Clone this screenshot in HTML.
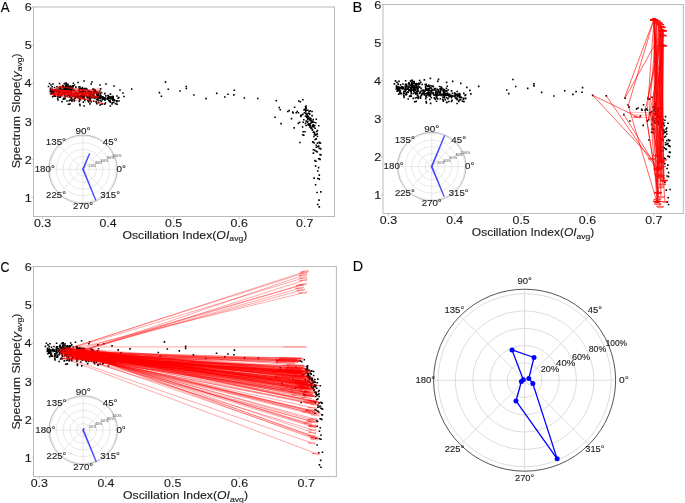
<!DOCTYPE html><html><head><meta charset="utf-8"><style>html,body{margin:0;padding:0;background:#fff;overflow:hidden;}svg{display:block;will-change:transform;}text{font-family:"Liberation Sans", sans-serif;stroke:#1a1a1a;stroke-width:0.12px;}</style></head><body>
<svg width="685" height="503" viewBox="0 0 685 503">
<rect width="685" height="503" fill="#fff"/>
<text x="0.87" y="11.7" font-size="15.2" textLength="8.86" lengthAdjust="spacingAndGlyphs" fill="#000">A</text>
<text x="352.49" y="11.9" font-size="15.2" textLength="9.77" lengthAdjust="spacingAndGlyphs" fill="#000">B</text>
<text x="0.38" y="271.6" font-size="14.8" textLength="8.98" lengthAdjust="spacingAndGlyphs" fill="#000">C</text>
<text x="352.72" y="271.4" font-size="15.1" textLength="10.36" lengthAdjust="spacingAndGlyphs" fill="#000">D</text>
<path d="M61.85 92.9h1.6M88.27 96.21h1.6M53.73 87.46h1.6M50.04 90.16h1.6M78.68 91.78h1.6M96.66 94.7h1.6M88.72 93.65h1.6M101.78 97.85h1.6M61.02 94.5h1.6M72.57 85.89h1.6M88.37 96.34h1.6M51.06 91.21h1.6M89.16 97.16h1.6M65.55 87.44h1.6M93.08 95.53h1.6M79.89 88.48h1.6M87.15 92.68h1.6M76.95 94.06h1.6M70.27 86.85h1.6M91.26 93.82h1.6M102.15 99.27h1.6M89.58 100.31h1.6M111.66 102.68h1.6M55.45 90.31h1.6M97.32 95.38h1.6M74.74 96.77h1.6M53.32 90.08h1.6M56.04 89.67h1.6M64.26 98.74h1.6M69.28 87.47h1.6M95.74 93.16h1.6M68.43 100.64h1.6M80.11 91.73h1.6M63.87 92.89h1.6M70.17 96h1.6M52.95 92.24h1.6M72.19 86.94h1.6M73.47 95.39h1.6M83.78 88.48h1.6M109.45 101.61h1.6M68.03 88.03h1.6M49.83 88.38h1.6M62.13 92.75h1.6M50.58 90.06h1.6M67.14 84.23h1.6M85.14 93.21h1.6M66.74 94.08h1.6M112.39 98.18h1.6M70.14 91.38h1.6M64.68 91.41h1.6M99.85 88.87h1.6M61.74 90.58h1.6M83.39 106.01h1.6M107.91 100.1h1.6M67.22 89.11h1.6M94.23 90.2h1.6M63.64 87.82h1.6M109.57 106.03h1.6M108.57 98.3h1.6M58.81 87.02h1.6M51.71 91.16h1.6M104.16 93.44h1.6M112.31 96.88h1.6M63.74 93.34h1.6M63.18 98.35h1.6M104.65 103.02h1.6M94.53 91.17h1.6M109.21 96.82h1.6M89.89 91.83h1.6M78.04 87.06h1.6M114.83 103.69h1.6M85.45 88.66h1.6M61.85 86.05h1.6M78.68 98.34h1.6M116.37 101.01h1.6M58.44 87.66h1.6M116.33 104.24h1.6M79.8 95.73h1.6M100.6 97.46h1.6M72.7 89.75h1.6M68.52 86.51h1.6M69.5 86.07h1.6M96.04 103.74h1.6M71.33 88.58h1.6M58.55 93.83h1.6M56.31 90.42h1.6M69.88 93.94h1.6M71 98.72h1.6M94.31 92.1h1.6M64.99 89.16h1.6M90.32 101.63h1.6M104.1 100.23h1.6M90.29 101.49h1.6M71.37 93.76h1.6M81.54 96.97h1.6M101.33 104.09h1.6M96.6 95.45h1.6M69.1 94.95h1.6M51.37 86.78h1.6M95.93 93.9h1.6M75.93 94.97h1.6M112 100.24h1.6M81.81 98.22h1.6M117.41 98.18h1.6M68.84 96.83h1.6M66.02 92.94h1.6M83.28 98.72h1.6M52.17 92.03h1.6M90.38 83.99h1.6M97.01 92.43h1.6M64.7 85.47h1.6M61.31 90.24h1.6M80.79 92.77h1.6M80.98 97.18h1.6M93.1 94.57h1.6M89.13 94.2h1.6M57.54 95.9h1.6M79.42 99.8h1.6M56.87 94.54h1.6M96.36 95.5h1.6M61.31 94.81h1.6M62.11 92.54h1.6M51.02 91.87h1.6M87.18 91.45h1.6M62.52 92.54h1.6M58.47 90.95h1.6M90.94 93.5h1.6M99.02 93.37h1.6M103.93 104.15h1.6M70.71 92.93h1.6M97.16 100.45h1.6M92.17 89.15h1.6M66.74 90.57h1.6M55.79 90.57h1.6M62.15 85.44h1.6M107.53 95.93h1.6M64.12 93.52h1.6M69.19 88.38h1.6M82.04 89h1.6M82.14 95.21h1.6M66.97 88.56h1.6M70.61 93.15h1.6M70.66 89.76h1.6M68.04 92.73h1.6M49.44 91.59h1.6M90.63 92.32h1.6M92.48 97.34h1.6M66.21 100.98h1.6M113.38 99.74h1.6M56.63 96.47h1.6M106.88 99.17h1.6M71.13 101.18h1.6M78.88 91.27h1.6M95.87 102.98h1.6M92.99 95.58h1.6M67.07 91.65h1.6M78.91 99.61h1.6M92.81 97.68h1.6M58.17 89.65h1.6M71.42 100.18h1.6M83.95 94.74h1.6M51.59 93.25h1.6M85.96 95.4h1.6M67.62 104.32h1.6M75.12 92.97h1.6M84.11 100.33h1.6M64.41 92.5h1.6M83.18 98.01h1.6M51.62 93.13h1.6M87.19 100.49h1.6M69.66 95.18h1.6M100.42 97.03h1.6M118.02 97.47h1.6M112.01 98.78h1.6M64.78 89.92h1.6M72.57 83.19h1.6M71.14 91h1.6M105.09 98.93h1.6M108.02 98.04h1.6M58.71 83.46h1.6M53.59 93.58h1.6M66.66 91.57h1.6M79.02 86.84h1.6M99.23 97.06h1.6M108.17 96.86h1.6M67.87 94.85h1.6M115.97 100.86h1.6M59.29 88.53h1.6M78.88 96.21h1.6M64.71 83.01h1.6M62.82 99.17h1.6M109.66 94.12h1.6M96.17 92.04h1.6M83.71 96.4h1.6M89.5 94.9h1.6M59.31 97.22h1.6M99.34 100.3h1.6M76.5 93.06h1.6M114.03 100.33h1.6M88.68 97.88h1.6M62.11 89.77h1.6M63.57 83.73h1.6M112.44 100.38h1.6M60.35 91.14h1.6M60.36 91.6h1.6M95.79 93.44h1.6M88.95 99.33h1.6M66.51 90h1.6M51.69 89.3h1.6M73.77 93.94h1.6M100.67 97.79h1.6M69.19 89.76h1.6M110.21 98.54h1.6M55.52 91.69h1.6M104.55 98.38h1.6M81.17 94.24h1.6M110.31 96.99h1.6M61.93 92.54h1.6M75.08 87.14h1.6M94.03 98.18h1.6M71.82 85.91h1.6M81 92.35h1.6M87.38 92.57h1.6M93.07 93.55h1.6M59.84 96.81h1.6M63.66 93.07h1.6M83.15 95.89h1.6M107.14 95.62h1.6M104.58 98.11h1.6M108.04 96.63h1.6M58.63 97.31h1.6M64.5 92.3h1.6M96.34 96.32h1.6M68.56 91.79h1.6M85.85 92.63h1.6M63.2 98.52h1.6M102.12 96.76h1.6M77.03 96.62h1.6M81.8 97.01h1.6M68.48 92.82h1.6M96.68 94.3h1.6M82.35 90.92h1.6M59.38 88.09h1.6M110.74 98.02h1.6M97.38 93.74h1.6M81.4 95.81h1.6M83.46 96.54h1.6M66.35 96.11h1.6M58.16 92.17h1.6M99.28 93.94h1.6M100.54 101.34h1.6M103.94 93.61h1.6M53.43 96.06h1.6M67.16 85.92h1.6M97.87 102.39h1.6M83.58 90.3h1.6M49.79 88.92h1.6M95.95 97.77h1.6M64.87 86.91h1.6M75.94 95.27h1.6M64.95 85.51h1.6M106.98 98.53h1.6M97.78 96.38h1.6M111.8 96.27h1.6M64.34 96.66h1.6M100.18 95.63h1.6M108.55 96.68h1.6M87.72 101.33h1.6M67.1 92.37h1.6M76.84 95.49h1.6M59.7 86.91h1.6M82.5 93.19h1.6M112.31 99.2h1.6M70.5 91.34h1.6M89.44 94.57h1.6M92.72 91.51h1.6M95.21 97.2h1.6M101.85 99.16h1.6M88.38 95.11h1.6M64.2 95.04h1.6M80.11 97.45h1.6M82.81 96.14h1.6M63.85 90.15h1.6M113.1 102.39h1.6M78.49 88.81h1.6M51.84 96.74h1.6M62.81 86.89h1.6M103.03 98.7h1.6M104.19 98.59h1.6M99.01 90.98h1.6M91.94 94.68h1.6M63.17 88.39h1.6M73.02 95.11h1.6M52.13 92.63h1.6M85.67 95.72h1.6M90.9 92.65h1.6M50.14 93.84h1.6M84.31 91.22h1.6M75.41 96.62h1.6M81.83 92.39h1.6M72.2 96.15h1.6M112.44 97.16h1.6M63 92.53h1.6M57.22 93.87h1.6M78.52 101.34h1.6M62.14 87.45h1.6M54.12 95.67h1.6M73.59 100.83h1.6M70.65 91.01h1.6M81.14 91.43h1.6M70.31 89.29h1.6M61.24 101.63h1.6M112.13 99.9h1.6M103.27 97.92h1.6M106.77 97.85h1.6M86.2 96.91h1.6M79.17 92.7h1.6M68.04 95.22h1.6M67.64 90.5h1.6M95.94 94.4h1.6M54.21 90.94h1.6M99.19 98.09h1.6M90.93 97.7h1.6M72.6 96.04h1.6M74.5 97.95h1.6M54.71 89.84h1.6M63.95 91.68h1.6M62.56 99.05h1.6M60.75 88.98h1.6M69.1 89.67h1.6M59.1 92.68h1.6M94.21 97.2h1.6M59.44 95.45h1.6M99.47 97.26h1.6M112.44 99.62h1.6M82.54 102.1h1.6M81.92 92.06h1.6M96.42 97.61h1.6M52.34 90.82h1.6M101.56 99.6h1.6M99.58 105.01h1.6M64.64 92.51h1.6M66.04 89.99h1.6M81.41 93.6h1.6M95.91 93.15h1.6M71.31 86.57h1.6M88.18 91.14h1.6M95.72 99.76h1.6M82.82 97.28h1.6M86.81 97.82h1.6M115.9 101.72h1.6M62.49 86.85h1.6M83.69 93.06h1.6M97.19 99.19h1.6M92.57 95.7h1.6M50.56 90.72h1.6M89.23 103.86h1.6M63.75 92.95h1.6M83.32 90.43h1.6M66.98 92.63h1.6M72.62 95.87h1.6M89.85 96.54h1.6M81.42 94.12h1.6M73.98 91.04h1.6M109.21 100.57h1.6M54.95 89.51h1.6M88.05 97.64h1.6M108.48 101.15h1.6M80.59 89.08h1.6M64.01 90.93h1.6M56.13 86.71h1.6M99.56 96.86h1.6M73.23 99.65h1.6M100.05 97.52h1.6M65.57 84.2h1.6M93.31 93.29h1.6M56.71 91.44h1.6M89.52 99.69h1.6M60.71 91.73h1.6M76.76 92.57h1.6M95.19 96.92h1.6M89.28 98.19h1.6M90.54 95.72h1.6M100.69 92.61h1.6M97.65 96.93h1.6M96.62 93.82h1.6M87.71 92.09h1.6M80.69 96.76h1.6M92.99 101.31h1.6M79 104.27h1.6M95.36 101.87h1.6M87.43 92.2h1.6M73.6 85.03h1.6M58.76 87.63h1.6M81.23 95.53h1.6M49.61 89.56h1.6M92.14 97.67h1.6M54.46 96.29h1.6M78.45 90.1h1.6M56.92 98.37h1.6M111.65 97.73h1.6M58.95 89.99h1.6M109.66 102.18h1.6M87.14 100.65h1.6M60.53 91.71h1.6M68.64 95.82h1.6M51.51 91.89h1.6M66.08 86.1h1.6M105.01 95.91h1.6M52.89 94.51h1.6M77.34 97.67h1.6M86.12 89.26h1.6M98.79 96.1h1.6M51.03 92.57h1.6M97.1 92.38h1.6M77.93 93.75h1.6M70.41 97.88h1.6M81.6 87.64h1.6M63.44 93.7h1.6M73.94 98.34h1.6M77.71 96.33h1.6M88.12 101.86h1.6M67.92 91.42h1.6M97.8 97.77h1.6M64.64 88.44h1.6M80.11 97.03h1.6M69.57 100.15h1.6M92.32 96.88h1.6M66.22 88.09h1.6M93.7 89.62h1.6M48.7 83.5h1.6M50.2 85h1.6M47.7 86.5h1.6M52.2 84h1.6M83.2 81h1.6M91.2 82h1.6M77.2 82.5h1.6M65.2 83h1.6M99.2 85h1.6M105.2 84h1.6M113.2 86h1.6M119.2 90h1.6M122.2 93h1.6M118.2 101h1.6M111.2 104h1.6M99.2 105h1.6M69.2 104h1.6M79.2 105.5h1.6M57.2 100h1.6M116.2 96h1.6M123.2 96.5h1.6M110.2 99h1.6M130.9 89h1.6M158.6 92.6h1.6M160.6 96.2h1.6M164.7 82.1h1.6M167.5 89.2h1.6M179.3 91h1.6M185.5 86.5h1.6M185.5 88.5h1.6M193.1 95h1.6M205.2 98.6h1.6M215.9 93.4h1.6M224 97h1.6M227.1 94.2h1.6M233.5 90.3h1.6M233 94.9h1.6M243.5 98h1.6M257 98.5h1.6M275.5 100.7h1.6M298 101h1.6M299.6 101.7h1.6M302.1 99.8h1.6M278.5 107.6h1.6M279.5 109.7h1.6M286.9 111.5h1.6M288.4 110.6h1.6M293.8 107.3h1.6M291.9 112h1.6M292.3 112.9h1.6M295.4 112.7h1.6M296.4 111.5h1.6M297.6 112.7h1.6M304.7 106.7h1.6M305.3 108.5h1.6M304.3 109.1h1.6M307.1 110.3h1.6M308.3 111.5h1.6M309.5 110.9h1.6M311.3 111.5h1.6M303.6 112.7h1.6M305.3 113.9h1.6M274.3 117.2h1.6M290.7 118.6h1.6M300 115.6h1.6M300.6 115h1.6M304.7 116.2h1.6M305.9 117.4h1.6M307.1 118.6h1.6M308.9 119.8h1.6M310.7 121h1.6M311.9 121.6h1.6M313.1 122.2h1.6M314.9 122.8h1.6M305.3 121h1.6M306.5 122.2h1.6M304.7 123.4h1.6M307.1 124.6h1.6M311.3 115.6h1.6M315.5 119.2h1.6M317.9 125.8h1.6M280.3 123.6h1.6M297.6 123.4h1.6M298.8 122.2h1.6M302.4 122.2h1.6M303 119.8h1.6M301.8 127h1.6M293.4 127.9h1.6M308.9 127h1.6M310.1 128.2h1.6M311.3 129.4h1.6M309.5 125.8h1.6M313.1 127h1.6M314.3 128.2h1.6M316.7 130.5h1.6M302.4 131.7h1.6M304.2 131.7h1.6M301.8 134.7h1.6M303 135.3h1.6M312.5 132.3h1.6M313.7 134.1h1.6M314.3 135.3h1.6M313.1 136.5h1.6M315.5 134.7h1.6M316.7 136.5h1.6M299.1 142.5h1.6M311.9 141.9h1.6M314.3 139.5h1.6M315.5 138.9h1.6M316.7 143.1h1.6M319.1 143.1h1.6M317.9 146.1h1.6M315.5 147.2h1.6M319.1 148.4h1.6M312.6 142.2h1.6M313.3 143h1.6M318.5 142.2h1.6M319.7 143h1.6M315.5 145.2h1.6M317 146.7h1.6M318.5 148.2h1.6M320 149h1.6M312.6 149.7h1.6M314.1 150.4h1.6M315.5 151.2h1.6M316.3 151.9h1.6M312.6 153.1h1.6M319.3 154.6h1.6M320 154.9h1.6M318.5 158.7h1.6M319.3 159.4h1.6M317.8 158.7h1.6M314.1 160.6h1.6M315.2 161.2h1.6M314.8 166.1h1.6M317.8 167.6h1.6M317 171h1.6M318.5 175.1h1.6M313.3 178.1h1.6M317 178.5h1.6M318.5 179.1h1.6M314.8 184.8h1.6M316.3 192.5h1.6M320 191.9h1.6M318.2 200.1h1.6M317 204.5h1.6M318.5 206.9h1.6M302.04 114.35h1.6M311.71 125.44h1.6M313.92 132.96h1.6M305.7 110.31h1.6M305.9 113.9h1.6M305.95 116.24h1.6M309.16 124.1h1.6M316.05 131.53h1.6M300.13 116.37h1.6M312.51 125.48h1.6M304.94 112.01h1.6M305.28 113.88h1.6M308.77 113.91h1.6M307.7 118.54h1.6M303.28 109.83h1.6M313.87 125.53h1.6M310.08 119.79h1.6M305.23 107.86h1.6M311.28 122.54h1.6M309.97 123.11h1.6M306.33 115.16h1.6M308.87 114.27h1.6M310.75 127.52h1.6M307.18 117.71h1.6M312.45 124.75h1.6M311.4 122.09h1.6M309.63 120.6h1.6M311.57 126.56h1.6M313.57 132.29h1.6M307.02 121.72h1.6M306.94 116.99h1.6M305.35 125.46h1.6M304.92 110.72h1.6M316.5 133.85h1.6M308.97 118.08h1.6M310.07 118.65h1.6M307.65 116.29h1.6M306.91 119.77h1.6M313.09 132.08h1.6M311.74 130.14h1.6M305.36 105.97h1.6M308.29 125.23h1.6M307.73 113.25h1.6M312.41 119.59h1.6M308.12 123.81h1.6" stroke="#000" stroke-width="1.6" fill="none"/>
<rect x="33.5" y="7" width="301" height="209.5" fill="none" stroke="#b9b9b9" stroke-width="1"/>
<line x1="31.3" y1="197.4" x2="33.5" y2="197.4" stroke="#b9b9b9" stroke-width="0.8"/>
<text x="24.79" y="201.6" font-size="11.7" textLength="7.03" lengthAdjust="spacingAndGlyphs" fill="#1a1a1a">1</text>
<line x1="31.3" y1="159.36" x2="33.5" y2="159.36" stroke="#b9b9b9" stroke-width="0.8"/>
<text x="24.82" y="163.56" font-size="11.7" textLength="7.03" lengthAdjust="spacingAndGlyphs" fill="#1a1a1a">2</text>
<line x1="31.3" y1="121.32" x2="33.5" y2="121.32" stroke="#b9b9b9" stroke-width="0.8"/>
<text x="24.72" y="125.52" font-size="11.7" textLength="7.03" lengthAdjust="spacingAndGlyphs" fill="#1a1a1a">3</text>
<line x1="31.3" y1="83.28" x2="33.5" y2="83.28" stroke="#b9b9b9" stroke-width="0.8"/>
<text x="24.53" y="87.48" font-size="11.7" textLength="7.03" lengthAdjust="spacingAndGlyphs" fill="#1a1a1a">4</text>
<line x1="31.3" y1="45.24" x2="33.5" y2="45.24" stroke="#b9b9b9" stroke-width="0.8"/>
<text x="24.69" y="49.44" font-size="11.7" textLength="7.03" lengthAdjust="spacingAndGlyphs" fill="#1a1a1a">5</text>
<line x1="31.3" y1="7.2" x2="33.5" y2="7.2" stroke="#b9b9b9" stroke-width="0.8"/>
<text x="24.72" y="11.4" font-size="11.7" textLength="7.03" lengthAdjust="spacingAndGlyphs" fill="#1a1a1a">6</text>
<line x1="42.5" y1="216.5" x2="42.5" y2="218.7" stroke="#b9b9b9" stroke-width="0.8"/>
<text x="33.9" y="226.7" font-size="11.7" textLength="17.22" lengthAdjust="spacingAndGlyphs" fill="#1a1a1a">0.3</text>
<line x1="108.05" y1="216.5" x2="108.05" y2="218.7" stroke="#b9b9b9" stroke-width="0.8"/>
<text x="99.46" y="226.7" font-size="11.7" textLength="17.03" lengthAdjust="spacingAndGlyphs" fill="#1a1a1a">0.4</text>
<line x1="173.6" y1="216.5" x2="173.6" y2="218.7" stroke="#b9b9b9" stroke-width="0.8"/>
<text x="165.01" y="226.7" font-size="11.7" textLength="17.19" lengthAdjust="spacingAndGlyphs" fill="#1a1a1a">0.5</text>
<line x1="239.15" y1="216.5" x2="239.15" y2="218.7" stroke="#b9b9b9" stroke-width="0.8"/>
<text x="230.55" y="226.7" font-size="11.7" textLength="17.22" lengthAdjust="spacingAndGlyphs" fill="#1a1a1a">0.6</text>
<line x1="304.7" y1="216.5" x2="304.7" y2="218.7" stroke="#b9b9b9" stroke-width="0.8"/>
<text x="296.1" y="226.7" font-size="11.7" textLength="17.32" lengthAdjust="spacingAndGlyphs" fill="#1a1a1a">0.7</text>
<text x="122.4" y="238.6" font-size="11.3" fill="#1a1a1a" textLength="125" lengthAdjust="spacingAndGlyphs">Oscillation Index(<tspan font-style="italic">OI</tspan><tspan font-size="8" dy="2.6">avg</tspan><tspan dy="-2.6">)</tspan></text>
<text transform="translate(19.6 168.3) rotate(-90)" x="0" y="0" font-size="11.3" fill="#1a1a1a" textLength="115" lengthAdjust="spacingAndGlyphs">Spectrum Slope(<tspan font-style="italic">&#947;</tspan><tspan font-size="8" dy="2.6">avg</tspan><tspan dy="-2.6">)</tspan></text>
<path d="M73.5 89.75L82.45 90.17L83.68 90.08L99.81 90.98L81.22 90.26L82.45 90.17M58.97 89.65L92.53 96.53L94.42 96.49L98.6 97.77L90.63 96.56L92.53 96.53M86.65 92.63L86.65 92.63L85.95 92.53L97.9 92.38L87.35 92.74L86.65 92.63M71.93 101.18L91.75 97.61L89.88 97.57L98.58 96.38L93.62 97.64L91.75 97.61M78.14 97.67L87.59 95.81L85.71 95.78L93.9 94.57L89.48 95.85L87.59 95.81M65.21 92.5L65.93 92.5L66.04 92.39L88.18 92.57L65.82 92.61L65.93 92.5M91.43 92.32L64.98 90.54L63.49 90.62L50.41 89.56L66.47 90.47L64.98 90.54M100.03 97.06L84.28 94.29L82.41 94.32L77.3 93.06L86.14 94.25L84.28 94.29M65.14 96.66L80.66 98.53L82.43 98.48L90.32 99.69L78.89 98.58L80.66 98.53M98.45 96.93L79.38 95.17L77.72 95.23L67.54 94.08L81.05 95.11L79.38 95.17M82.34 96.97L76.48 96.06L74.64 96.1L68.67 94.85L78.33 96.02L76.48 96.06M69.28 92.82L74.73 92.89L75.14 92.78L96.54 93.16L74.33 93L74.73 92.89M67.54 94.08L67.54 94.08L66.58 93.98L82.21 93.6L68.5 94.17L67.54 94.08M73.4 96.04L61.27 92.95L59.36 92.98L56.32 91.69L63.19 92.92L61.27 92.95M74.27 95.39L55.56 90.82L53.65 90.85L50.41 89.56L57.48 90.8L55.56 90.82M71.94 91L60.82 95.2L62.76 95.21L57.43 96.47L58.87 95.18L60.82 95.2M81.39 89.08L71.27 88.12L69.59 88.18L59.61 87.02L72.94 88.06L71.27 88.12M63.29 86.85L87.71 90.88L89.57 90.84L95.11 92.1L85.86 90.92L87.71 90.88M82.94 95.21L82.94 95.21L81.55 95.13L93.9 94.57L84.33 95.29L82.94 95.21M82.34 96.97L64.11 92.22L62.19 92.24L59.27 90.95L66.03 92.19L64.11 92.22M100.08 93.94L67.41 90.93L65.75 90.99L55.51 89.84L69.07 90.87L67.41 90.93M82.61 98.22L67.93 92.21L65.99 92.22L64.81 90.93L69.88 92.19L67.93 92.21M100.65 88.87L75.29 90.7L76.82 90.77L61.33 91.71L73.76 90.63L75.29 90.7M60.24 95.45L87.11 93.6L85.61 93.53L101.49 92.61L88.61 93.68L87.11 93.6M50.41 89.56L57.58 90.41L59.35 90.36L67.46 91.57L55.82 90.46L57.58 90.41M50.63 88.38L56.28 92.58L58.24 92.57L58.02 93.87L54.32 92.59L56.28 92.58M51.36 90.72L99.73 102.89L101.64 102.87L104.73 104.15L97.81 102.92L99.73 102.89M59.51 83.46L62.45 91.45L64.42 91.45L62.93 92.75L60.49 91.46L62.45 91.45M55.75 89.51L58.15 88.2L56.19 88.19L60.5 86.91L60.11 88.21L58.15 88.2M53.14 90.82L60.09 87.33L58.14 87.32L62.65 86.05L62.04 87.35L60.09 87.33M82.61 98.22L60.38 95.42L58.59 95.47L51.04 94.25L62.16 95.37L60.38 95.42M97.16 95.5L69.55 94.38L68.42 94.47L51.31 93.63L70.68 94.28L69.55 94.38M86.92 89.26L59.6 93.22L61.43 93.26L51.31 94.42L57.77 93.17L59.6 93.22M71.21 97.88L58.09 95.61L56.22 95.64L51.02 94.38L59.95 95.57L58.09 95.61M89.52 93.65L72.78 93.83L73.16 93.95L50.9 94.08L72.4 93.72L72.78 93.83" stroke="#ff0000" stroke-opacity="0.9" stroke-width="0.45" fill="none" stroke-linejoin="miter"/>
<path d="M47.5 93.2L56 91.3L56 95.6Z" fill="#ff0000" fill-opacity="0.22"/>
<path d="M48 94.6L55 93.2L55 96.3Z" fill="#ff0000" fill-opacity="0.18"/>
<circle cx="83" cy="169.3" r="6.64" fill="none" stroke="#d9d9d9" stroke-width="0.6"/>
<circle cx="83" cy="169.3" r="13.28" fill="none" stroke="#d9d9d9" stroke-width="0.6"/>
<circle cx="83" cy="169.3" r="19.92" fill="none" stroke="#d9d9d9" stroke-width="0.6"/>
<circle cx="83" cy="169.3" r="26.56" fill="none" stroke="#d9d9d9" stroke-width="0.6"/>
<circle cx="83" cy="169.3" r="33.2" fill="none" stroke="#d9d9d9" stroke-width="0.6"/>
<line x1="83" y1="169.3" x2="117.3" y2="169.3" stroke="#d9d9d9" stroke-width="0.6"/>
<line x1="83" y1="169.3" x2="107.25" y2="145.05" stroke="#d9d9d9" stroke-width="0.6"/>
<line x1="83" y1="169.3" x2="83" y2="135" stroke="#d9d9d9" stroke-width="0.6"/>
<line x1="83" y1="169.3" x2="58.75" y2="145.05" stroke="#d9d9d9" stroke-width="0.6"/>
<line x1="83" y1="169.3" x2="48.7" y2="169.3" stroke="#d9d9d9" stroke-width="0.6"/>
<line x1="83" y1="169.3" x2="58.75" y2="193.55" stroke="#d9d9d9" stroke-width="0.6"/>
<line x1="83" y1="169.3" x2="83" y2="203.6" stroke="#d9d9d9" stroke-width="0.6"/>
<line x1="83" y1="169.3" x2="107.25" y2="193.55" stroke="#d9d9d9" stroke-width="0.6"/>
<circle cx="83" cy="169.3" r="34.3" fill="none" stroke="#a8a8a8" stroke-width="0.8"/>
<text x="116.61" y="171.8" font-size="8.8" textLength="9.39" lengthAdjust="spacingAndGlyphs" fill="#1a1a1a">0&#176;</text>
<text x="102.79" y="145.22" font-size="8.8" textLength="14.81" lengthAdjust="spacingAndGlyphs" fill="#1a1a1a">45&#176;</text>
<text x="75.53" y="134.22" font-size="8.8" textLength="15.07" lengthAdjust="spacingAndGlyphs" fill="#1a1a1a">90&#176;</text>
<text x="45.86" y="145.22" font-size="8.8" textLength="20.12" lengthAdjust="spacingAndGlyphs" fill="#1a1a1a">135&#176;</text>
<text x="34.67" y="171.8" font-size="8.8" textLength="20.12" lengthAdjust="spacingAndGlyphs" fill="#1a1a1a">180&#176;</text>
<text x="46.11" y="198.37" font-size="8.8" textLength="19.87" lengthAdjust="spacingAndGlyphs" fill="#1a1a1a">225&#176;</text>
<text x="73.12" y="209.38" font-size="8.8" textLength="19.87" lengthAdjust="spacingAndGlyphs" fill="#1a1a1a">270&#176;</text>
<text x="100.25" y="198.37" font-size="8.8" textLength="19.74" lengthAdjust="spacingAndGlyphs" fill="#1a1a1a">315&#176;</text>
<text x="92.28" y="166.76" font-size="3.7" text-anchor="middle" fill="#444" style="stroke:none">20%</text>
<text x="98.41" y="164.22" font-size="3.7" text-anchor="middle" fill="#444" style="stroke:none">40%</text>
<text x="104.54" y="161.68" font-size="3.7" text-anchor="middle" fill="#444" style="stroke:none">60%</text>
<text x="110.68" y="159.13" font-size="3.7" text-anchor="middle" fill="#444" style="stroke:none">80%</text>
<text x="116.81" y="156.59" font-size="3.7" text-anchor="middle" fill="#444" style="stroke:none">100%</text>
<path d="M83.31 169.17L89.35 153.96L82.87 168.99L82.69 169.17L82.69 169.43L82.87 169.61L95.71 199.97L83.31 169.43Z" fill="none" stroke="#2a2aff" stroke-opacity="0.85" stroke-width="1.3" stroke-linejoin="round"/>
<path d="M407.99 90.28h1.6M434.74 93.6h1.6M399.78 84.83h1.6M396.04 87.53h1.6M425.03 89.16h1.6M443.23 92.08h1.6M435.19 91.03h1.6M448.42 95.24h1.6M407.16 91.88h1.6M418.85 83.25h1.6M434.84 93.73h1.6M397.08 88.59h1.6M435.64 94.54h1.6M411.75 84.81h1.6M439.6 92.92h1.6M426.25 85.85h1.6M433.6 90.06h1.6M423.28 91.44h1.6M416.52 84.22h1.6M437.76 91.21h1.6M448.79 96.66h1.6M436.06 97.71h1.6M458.41 100.08h1.6M401.51 87.68h1.6M443.9 92.77h1.6M421.05 94.16h1.6M399.37 87.45h1.6M402.11 87.04h1.6M410.43 96.13h1.6M415.51 84.84h1.6M442.3 90.54h1.6M414.66 98.03h1.6M426.48 89.11h1.6M410.04 90.27h1.6M416.41 93.39h1.6M398.98 89.62h1.6M418.47 84.31h1.6M419.76 92.77h1.6M430.19 85.86h1.6M456.17 99.01h1.6M414.25 85.4h1.6M395.83 85.75h1.6M408.28 90.13h1.6M396.59 87.43h1.6M413.36 81.59h1.6M431.57 90.59h1.6M412.95 91.46h1.6M459.15 95.57h1.6M416.39 88.76h1.6M410.86 88.78h1.6M446.46 86.24h1.6M407.88 87.96h1.6M429.8 103.42h1.6M454.62 97.49h1.6M413.43 86.48h1.6M440.77 87.58h1.6M409.81 85.18h1.6M456.3 103.44h1.6M455.29 95.69h1.6M404.92 84.38h1.6M397.73 88.54h1.6M450.82 90.83h1.6M459.08 94.27h1.6M409.91 90.72h1.6M409.34 95.74h1.6M451.31 100.42h1.6M441.07 88.55h1.6M455.94 94.21h1.6M436.38 89.21h1.6M424.38 84.43h1.6M461.62 101.09h1.6M431.88 86.03h1.6M408 83.42h1.6M425.03 95.73h1.6M463.18 98.4h1.6M404.55 85.03h1.6M463.14 101.64h1.6M426.17 93.11h1.6M447.22 94.85h1.6M418.97 87.13h1.6M414.75 83.88h1.6M415.74 83.43h1.6M442.6 101.15h1.6M417.6 85.95h1.6M404.66 91.21h1.6M402.39 87.8h1.6M416.13 91.32h1.6M417.26 96.11h1.6M440.85 89.48h1.6M411.17 86.53h1.6M436.81 99.03h1.6M450.76 97.62h1.6M436.78 98.89h1.6M417.63 91.14h1.6M427.93 94.36h1.6M447.96 101.49h1.6M443.17 92.83h1.6M415.33 92.34h1.6M397.39 84.15h1.6M442.49 91.28h1.6M422.24 92.36h1.6M458.76 97.63h1.6M428.2 95.61h1.6M464.23 95.57h1.6M415.07 94.22h1.6M412.22 90.32h1.6M429.68 96.11h1.6M398.2 89.4h1.6M436.88 81.35h1.6M443.58 89.81h1.6M410.88 82.84h1.6M407.45 87.62h1.6M427.17 90.15h1.6M427.36 94.57h1.6M439.62 91.96h1.6M435.61 91.58h1.6M403.64 93.29h1.6M425.78 97.19h1.6M402.96 91.93h1.6M442.93 92.89h1.6M407.45 92.19h1.6M408.26 89.92h1.6M397.04 89.25h1.6M433.63 88.83h1.6M408.67 89.91h1.6M404.57 88.33h1.6M437.44 90.88h1.6M445.62 90.75h1.6M450.59 101.56h1.6M416.96 90.31h1.6M443.74 97.85h1.6M438.68 86.52h1.6M412.95 87.95h1.6M401.87 87.94h1.6M408.3 82.81h1.6M454.23 93.31h1.6M410.29 90.9h1.6M415.43 85.75h1.6M428.44 86.37h1.6M428.53 92.6h1.6M413.18 85.93h1.6M416.86 90.53h1.6M416.91 87.13h1.6M414.26 90.11h1.6M395.43 88.96h1.6M437.13 89.7h1.6M439 94.73h1.6M412.41 98.38h1.6M460.15 97.14h1.6M402.71 93.86h1.6M453.57 96.57h1.6M417.39 98.57h1.6M425.24 88.65h1.6M442.43 100.38h1.6M439.52 92.97h1.6M413.28 89.03h1.6M425.26 97.01h1.6M439.34 95.07h1.6M404.27 87.02h1.6M417.68 97.58h1.6M430.36 92.12h1.6M397.61 90.63h1.6M432.4 92.78h1.6M413.83 101.72h1.6M421.43 90.35h1.6M430.53 97.72h1.6M410.59 89.88h1.6M429.58 95.4h1.6M397.64 90.51h1.6M433.65 97.88h1.6M415.9 92.57h1.6M447.04 94.42h1.6M464.85 94.86h1.6M458.77 96.18h1.6M410.96 87.3h1.6M418.85 80.55h1.6M417.4 88.38h1.6M451.76 96.32h1.6M454.73 95.43h1.6M404.81 80.82h1.6M399.63 90.96h1.6M412.86 88.94h1.6M425.37 84.2h1.6M445.83 94.45h1.6M454.88 94.25h1.6M414.09 92.24h1.6M462.78 98.25h1.6M405.4 85.9h1.6M425.23 93.6h1.6M410.89 80.37h1.6M408.97 96.57h1.6M456.39 91.5h1.6M442.73 89.42h1.6M430.12 93.78h1.6M435.98 92.29h1.6M405.42 94.61h1.6M445.94 97.7h1.6M422.82 90.44h1.6M460.81 97.73h1.6M435.16 95.27h1.6M408.26 87.15h1.6M409.73 81.09h1.6M459.2 97.78h1.6M406.47 88.52h1.6M406.48 88.98h1.6M442.35 90.82h1.6M435.43 96.73h1.6M412.71 87.37h1.6M397.72 86.68h1.6M420.06 91.32h1.6M447.29 95.18h1.6M415.43 87.13h1.6M456.95 95.93h1.6M401.59 89.07h1.6M451.22 95.77h1.6M427.56 91.62h1.6M457.05 94.38h1.6M408.08 89.92h1.6M421.38 84.51h1.6M440.56 95.57h1.6M418.09 83.28h1.6M427.38 89.73h1.6M433.83 89.95h1.6M439.6 90.93h1.6M405.96 94.2h1.6M409.82 90.45h1.6M429.55 93.28h1.6M453.83 93.01h1.6M451.25 95.51h1.6M454.75 94.02h1.6M404.74 94.7h1.6M410.67 89.67h1.6M442.91 93.71h1.6M414.79 89.17h1.6M432.29 90.01h1.6M409.36 95.91h1.6M448.75 94.15h1.6M423.36 94.01h1.6M428.19 94.39h1.6M414.7 90.2h1.6M443.25 91.69h1.6M428.75 88.3h1.6M405.49 85.46h1.6M457.48 95.41h1.6M443.96 91.13h1.6M427.78 93.2h1.6M429.87 93.93h1.6M412.55 93.5h1.6M404.26 89.55h1.6M445.89 91.32h1.6M447.16 98.74h1.6M450.6 90.99h1.6M399.47 93.44h1.6M413.37 83.29h1.6M444.46 99.79h1.6M429.99 87.68h1.6M395.79 86.29h1.6M442.52 95.16h1.6M411.05 84.28h1.6M422.26 92.65h1.6M411.14 82.87h1.6M453.67 95.92h1.6M444.37 93.77h1.6M458.55 93.65h1.6M410.52 94.04h1.6M446.79 93.02h1.6M455.27 94.07h1.6M434.19 98.73h1.6M413.31 89.74h1.6M423.17 92.88h1.6M405.82 84.28h1.6M428.9 90.57h1.6M459.07 96.6h1.6M416.76 88.72h1.6M435.92 91.95h1.6M439.24 88.89h1.6M441.76 94.59h1.6M448.48 96.55h1.6M434.84 92.49h1.6M410.37 92.42h1.6M426.48 94.84h1.6M429.21 93.53h1.6M410.02 87.52h1.6M459.87 99.79h1.6M424.84 86.18h1.6M397.86 94.13h1.6M408.97 84.26h1.6M449.68 96.1h1.6M450.85 95.98h1.6M445.61 88.36h1.6M438.45 92.06h1.6M409.33 85.76h1.6M419.3 92.5h1.6M398.16 90.01h1.6M432.1 93.11h1.6M437.4 90.03h1.6M396.14 91.22h1.6M430.73 88.6h1.6M421.72 94.01h1.6M428.22 89.77h1.6M418.47 93.54h1.6M459.21 94.55h1.6M409.16 89.91h1.6M403.31 91.25h1.6M424.87 98.74h1.6M408.29 84.82h1.6M400.17 93.06h1.6M419.87 98.23h1.6M416.91 88.39h1.6M427.52 88.81h1.6M416.55 86.67h1.6M407.38 99.03h1.6M458.88 97.29h1.6M449.92 95.31h1.6M453.46 95.24h1.6M432.64 94.3h1.6M425.53 90.08h1.6M414.27 92.6h1.6M413.86 87.87h1.6M442.5 91.78h1.6M400.27 88.32h1.6M445.79 95.48h1.6M437.43 95.09h1.6M418.88 93.42h1.6M420.8 95.34h1.6M400.77 87.21h1.6M410.12 89.06h1.6M408.71 96.45h1.6M406.89 86.35h1.6M415.33 87.05h1.6M405.22 90.06h1.6M440.75 94.59h1.6M405.56 92.83h1.6M446.08 94.65h1.6M459.2 97.01h1.6M428.94 99.5h1.6M428.31 89.44h1.6M442.98 95h1.6M398.37 88.19h1.6M448.19 97h1.6M446.19 102.41h1.6M410.82 89.89h1.6M412.23 87.37h1.6M427.8 90.98h1.6M442.47 90.53h1.6M417.57 83.93h1.6M434.65 88.52h1.6M442.28 97.15h1.6M429.22 94.67h1.6M433.27 95.21h1.6M462.71 99.12h1.6M408.64 84.22h1.6M430.11 90.44h1.6M443.76 96.58h1.6M439.09 93.09h1.6M396.57 88.1h1.6M435.71 101.27h1.6M409.92 90.33h1.6M429.73 87.8h1.6M413.19 90.01h1.6M418.9 93.25h1.6M436.33 93.93h1.6M427.8 91.51h1.6M420.28 88.41h1.6M455.93 97.96h1.6M401.01 86.89h1.6M434.51 95.03h1.6M455.19 98.55h1.6M426.97 86.45h1.6M410.18 88.3h1.6M402.21 84.07h1.6M446.17 94.24h1.6M419.52 97.05h1.6M446.66 94.91h1.6M411.76 81.57h1.6M439.84 90.67h1.6M402.79 88.82h1.6M436.01 97.09h1.6M406.84 89.11h1.6M423.09 89.94h1.6M441.74 94.31h1.6M435.77 95.58h1.6M437.04 93.11h1.6M447.31 89.99h1.6M444.23 94.32h1.6M443.19 91.2h1.6M434.17 89.47h1.6M427.07 94.15h1.6M439.51 98.71h1.6M425.36 101.67h1.6M441.92 99.27h1.6M433.89 89.58h1.6M419.89 82.4h1.6M404.87 85h1.6M427.61 92.92h1.6M395.6 86.94h1.6M438.65 95.06h1.6M400.52 93.68h1.6M424.8 87.48h1.6M403 95.76h1.6M458.41 95.12h1.6M405.06 87.37h1.6M456.39 99.58h1.6M433.6 98.05h1.6M406.65 89.08h1.6M414.87 93.2h1.6M397.53 89.27h1.6M412.28 83.46h1.6M451.68 93.29h1.6M398.93 91.89h1.6M423.68 95.06h1.6M432.56 86.64h1.6M445.38 93.49h1.6M397.04 89.95h1.6M443.67 89.76h1.6M424.28 91.13h1.6M416.66 95.27h1.6M427.99 85.01h1.6M409.6 91.09h1.6M420.24 95.74h1.6M424.05 93.72h1.6M434.59 99.26h1.6M414.14 88.8h1.6M444.38 95.16h1.6M410.82 85.81h1.6M426.48 94.42h1.6M415.81 97.55h1.6M438.83 94.27h1.6M412.42 85.46h1.6M440.23 86.99h1.6M394.69 80.86h1.6M396.2 82.36h1.6M393.67 83.87h1.6M398.23 81.36h1.6M429.61 78.36h1.6M437.7 79.36h1.6M423.53 79.86h1.6M411.39 80.36h1.6M445.8 82.36h1.6M451.87 81.36h1.6M459.97 83.37h1.6M466.05 87.37h1.6M469.08 90.38h1.6M465.03 98.4h1.6M457.95 101.4h1.6M445.8 102.41h1.6M415.44 101.4h1.6M425.56 102.91h1.6M403.29 97.4h1.6M463.01 93.39h1.6M470.09 93.89h1.6M456.94 96.39h1.6M477.89 86.37h1.6M505.93 89.98h1.6M507.95 93.59h1.6M512.1 79.46h1.6M514.94 86.57h1.6M526.88 88.38h1.6M533.15 83.87h1.6M533.15 85.87h1.6M540.85 92.38h1.6M553.1 95.99h1.6M563.93 90.78h1.6M572.12 94.39h1.6M575.26 91.58h1.6M581.74 87.67h1.6M581.23 92.28h1.6M591.86 95.39h1.6M605.53 95.89h1.6M624.25 98.1h1.6M647.03 98.4h1.6M648.65 99.1h1.6M651.18 97.19h1.6M627.29 105.01h1.6M628.3 107.12h1.6M635.79 108.92h1.6M637.31 108.02h1.6M642.78 104.71h1.6M640.85 109.42h1.6M641.26 110.32h1.6M644.4 110.12h1.6M645.41 108.92h1.6M646.62 110.12h1.6M653.81 104.11h1.6M654.42 105.91h1.6M653.4 106.51h1.6M656.24 107.72h1.6M657.45 108.92h1.6M658.67 108.32h1.6M660.49 108.92h1.6M652.7 110.12h1.6M654.42 111.32h1.6M623.04 114.63h1.6M639.64 116.03h1.6M649.05 113.03h1.6M649.66 112.43h1.6M653.81 113.63h1.6M655.02 114.83h1.6M656.24 116.03h1.6M658.06 117.24h1.6M659.88 118.44h1.6M661.1 119.04h1.6M662.31 119.64h1.6M664.13 120.24h1.6M654.42 118.44h1.6M655.63 119.64h1.6M653.81 120.84h1.6M656.24 122.05h1.6M660.49 113.03h1.6M664.74 116.64h1.6M667.17 123.25h1.6M629.11 121.04h1.6M646.62 120.84h1.6M647.84 119.64h1.6M651.48 119.64h1.6M652.09 117.24h1.6M650.87 124.45h1.6M642.37 125.35h1.6M658.06 124.45h1.6M659.28 125.65h1.6M660.49 126.86h1.6M658.67 123.25h1.6M662.31 124.45h1.6M663.53 125.65h1.6M665.96 127.96h1.6M651.48 129.16h1.6M653.3 129.16h1.6M650.87 132.17h1.6M652.09 132.77h1.6M661.7 129.76h1.6M662.92 131.57h1.6M663.53 132.77h1.6M662.31 133.97h1.6M664.74 132.17h1.6M665.96 133.97h1.6M648.14 139.98h1.6M661.1 139.38h1.6M663.53 136.98h1.6M664.74 136.38h1.6M665.96 140.59h1.6M668.39 140.59h1.6M667.17 143.59h1.6M664.74 144.69h1.6M668.39 145.9h1.6M661.81 139.68h1.6M662.51 140.49h1.6M667.78 139.68h1.6M668.99 140.49h1.6M664.74 142.69h1.6M666.26 144.19h1.6M667.78 145.7h1.6M669.3 146.5h1.6M661.81 147.2h1.6M663.32 147.9h1.6M664.74 148.7h1.6M665.55 149.4h1.6M661.81 150.61h1.6M668.59 152.11h1.6M669.3 152.41h1.6M667.78 156.22h1.6M668.59 156.92h1.6M667.07 156.22h1.6M663.32 158.12h1.6M664.44 158.72h1.6M664.03 163.63h1.6M667.07 165.14h1.6M666.26 168.54h1.6M667.78 172.65h1.6M662.51 175.66h1.6M666.26 176.06h1.6M667.78 176.66h1.6M664.03 182.37h1.6M665.55 190.09h1.6M669.3 189.49h1.6M667.47 197.71h1.6M666.26 202.11h1.6M667.78 204.52h1.6M651.12 111.77h1.6M660.91 122.88h1.6M663.14 130.43h1.6M654.82 107.72h1.6M655.02 111.32h1.6M655.07 113.67h1.6M658.33 121.54h1.6M665.3 129h1.6M649.18 113.8h1.6M661.72 122.93h1.6M654.05 109.43h1.6M654.39 111.3h1.6M657.93 111.34h1.6M656.85 115.97h1.6M652.37 107.25h1.6M663.09 122.98h1.6M659.25 117.22h1.6M654.34 105.27h1.6M660.47 119.99h1.6M659.14 120.55h1.6M655.46 112.58h1.6M658.03 111.69h1.6M659.94 124.97h1.6M656.32 115.14h1.6M661.66 122.19h1.6M660.59 119.53h1.6M658.8 118.04h1.6M660.77 124.01h1.6M662.79 129.75h1.6M656.16 119.16h1.6M656.07 114.42h1.6M654.47 122.91h1.6M654.03 108.14h1.6M665.75 131.32h1.6M658.13 115.51h1.6M659.25 116.09h1.6M656.8 113.71h1.6M656.04 117.2h1.6M662.31 129.54h1.6M660.94 127.6h1.6M654.48 103.38h1.6M657.44 122.68h1.6M656.88 110.67h1.6M661.61 117.03h1.6M657.28 121.25h1.6" stroke="#000" stroke-width="1.6" fill="none"/>
<rect x="383" y="4.5" width="300.3" height="209" fill="none" stroke="#b9b9b9" stroke-width="1"/>
<line x1="380.8" y1="195" x2="383" y2="195" stroke="#b9b9b9" stroke-width="0.8"/>
<text x="374.29" y="199.2" font-size="11.7" textLength="7.03" lengthAdjust="spacingAndGlyphs" fill="#1a1a1a">1</text>
<line x1="380.8" y1="156.88" x2="383" y2="156.88" stroke="#b9b9b9" stroke-width="0.8"/>
<text x="374.32" y="161.08" font-size="11.7" textLength="7.03" lengthAdjust="spacingAndGlyphs" fill="#1a1a1a">2</text>
<line x1="380.8" y1="118.76" x2="383" y2="118.76" stroke="#b9b9b9" stroke-width="0.8"/>
<text x="374.22" y="122.96" font-size="11.7" textLength="7.03" lengthAdjust="spacingAndGlyphs" fill="#1a1a1a">3</text>
<line x1="380.8" y1="80.64" x2="383" y2="80.64" stroke="#b9b9b9" stroke-width="0.8"/>
<text x="374.03" y="84.84" font-size="11.7" textLength="7.03" lengthAdjust="spacingAndGlyphs" fill="#1a1a1a">4</text>
<line x1="380.8" y1="42.52" x2="383" y2="42.52" stroke="#b9b9b9" stroke-width="0.8"/>
<text x="374.19" y="46.72" font-size="11.7" textLength="7.03" lengthAdjust="spacingAndGlyphs" fill="#1a1a1a">5</text>
<line x1="380.8" y1="4.4" x2="383" y2="4.4" stroke="#b9b9b9" stroke-width="0.8"/>
<text x="374.22" y="8.6" font-size="11.7" textLength="7.03" lengthAdjust="spacingAndGlyphs" fill="#1a1a1a">6</text>
<line x1="388.4" y1="213.5" x2="388.4" y2="215.7" stroke="#b9b9b9" stroke-width="0.8"/>
<text x="379.8" y="224.1" font-size="11.7" textLength="17.22" lengthAdjust="spacingAndGlyphs" fill="#1a1a1a">0.3</text>
<line x1="454.75" y1="213.5" x2="454.75" y2="215.7" stroke="#b9b9b9" stroke-width="0.8"/>
<text x="446.16" y="224.1" font-size="11.7" textLength="17.03" lengthAdjust="spacingAndGlyphs" fill="#1a1a1a">0.4</text>
<line x1="521.1" y1="213.5" x2="521.1" y2="215.7" stroke="#b9b9b9" stroke-width="0.8"/>
<text x="512.51" y="224.1" font-size="11.7" textLength="17.19" lengthAdjust="spacingAndGlyphs" fill="#1a1a1a">0.5</text>
<line x1="587.45" y1="213.5" x2="587.45" y2="215.7" stroke="#b9b9b9" stroke-width="0.8"/>
<text x="578.85" y="224.1" font-size="11.7" textLength="17.22" lengthAdjust="spacingAndGlyphs" fill="#1a1a1a">0.6</text>
<line x1="653.8" y1="213.5" x2="653.8" y2="215.7" stroke="#b9b9b9" stroke-width="0.8"/>
<text x="645.2" y="224.1" font-size="11.7" textLength="17.32" lengthAdjust="spacingAndGlyphs" fill="#1a1a1a">0.7</text>
<text x="471.8" y="236.3" font-size="11.3" fill="#1a1a1a" textLength="122.5" lengthAdjust="spacingAndGlyphs">Oscillation Index(<tspan font-style="italic">OI</tspan><tspan font-size="8" dy="2.6">avg</tspan><tspan dy="-2.6">)</tspan></text>
<path d="M624.5 98L653.62 19.9L649.97 19.89L654.1 18.6L657.27 19.9L653.62 19.9M628.5 104.7L653.71 19.9L650.07 19.89L654.1 18.6L657.36 19.9L653.71 19.9M655.82 111.32L662.98 35.8L659.33 35.79L663.1 34.5L666.63 35.8L662.98 35.8M647.42 110.12L654.01 19.9L650.36 19.9L654.1 18.6L657.65 19.9L654.01 19.9M647.83 98.4L661.65 27.4L658 27.39L661.9 26.1L665.3 27.4L661.65 27.4M652.28 129.16L662.84 45.9L659.19 45.89L663 44.6L666.48 45.9L662.84 45.9M652.89 117.24L660.39 24.8L656.75 24.8L660.5 23.5L664.04 24.8L660.39 24.8M661.27 119.99L663.07 31L659.42 31L663.1 29.7L666.72 31L663.07 31M654.61 120.84L662.98 31L659.33 30.99L663.1 29.7L666.63 31L662.98 31M656.43 119.64L654.13 19.9L650.48 19.9L654.1 18.6L657.78 19.9L654.13 19.9M651.92 111.77L661.75 27.4L658.1 27.39L661.9 26.1L665.4 27.4L661.75 27.4M658.08 121.25L661.85 27.4L658.2 27.4L661.9 26.1L665.5 27.4L661.85 27.4M645.2 110.12L662.81 31L659.16 30.99L663.1 29.7L666.46 31L662.81 31M658.86 124.45L654.16 19.9L650.51 19.9L654.1 18.6L657.81 19.9L654.16 19.9M648.64 119.64L662.75 45.9L659.1 45.89L663 44.6L666.4 45.9L662.75 45.9M652.89 132.77L658.83 23.2L655.18 23.2L658.9 21.9L662.48 23.2L658.83 23.2M625.05 98.1L662.38 31L658.73 30.99L663.1 29.7L666.03 31L662.38 31M662.41 117.03L663.09 35.8L659.44 35.8L663.1 34.5L666.74 35.8L663.09 35.8M654.2 106.51L654.1 19.9L650.45 19.9L654.1 18.6L657.75 19.9L654.1 19.9M648.64 119.64L656.89 21.3L653.24 21.3L657 20L660.54 21.3L656.89 21.3M659.47 123.25L658.91 23.2L655.26 23.2L658.9 21.9L662.56 23.2L658.91 23.2M662.52 122.93L662.99 45.9L659.34 45.9L663 44.6L666.64 45.9L662.99 45.9M657.04 116.03L663.01 31L659.36 31L663.1 29.7L666.66 31L663.01 31M661.71 122.88L654.19 19.9L650.55 19.9L654.1 18.6L657.84 19.9L654.19 19.9M654.85 109.43L656.97 21.3L653.32 21.3L657 20L660.62 21.3L656.97 21.3M660.08 125.65L660.49 24.8L656.85 24.8L660.5 23.5L664.14 24.8L660.49 24.8M662.61 139.68L662.99 45.9L659.35 45.9L663 44.6L666.64 45.9L662.99 45.9M654.83 108.14L654.11 19.9L650.46 19.9L654.1 18.6L657.76 19.9L654.11 19.9M654.1 18.6L662.34 166.2L665.98 166.2L662.41 167.5L658.69 166.2L662.34 166.2M654.1 18.6L658.08 174.22L661.73 174.22L658.11 175.51L654.43 174.22L658.08 174.22M654.1 18.6L659.71 167.74L663.36 167.73L659.76 169.03L656.06 167.74L659.71 167.74M657 20L657.11 201.4L660.76 201.4L657.11 202.69L653.46 201.4L657.11 201.4M655.5 19.2L658.16 192.69L661.81 192.69L658.18 193.99L654.51 192.69L658.16 192.69M661.9 26.1L660.95 161.69L664.6 161.69L660.94 162.99L657.3 161.69L660.95 161.69M658.9 21.9L663.91 180.39L667.56 180.39L663.95 181.68L660.26 180.39L663.91 180.39M663.1 29.7L661.36 177.95L665.01 177.95L661.35 179.25L657.72 177.95L661.36 177.95M663.1 29.7L658.2 168.37L661.85 168.37L658.16 169.67L654.55 168.37L658.2 168.37M662 60L663.45 159.78L667.1 159.78L663.47 161.08L659.8 159.78L663.45 159.78M658.9 21.9L660.31 162.38L663.96 162.38L660.32 163.67L656.66 162.38L660.31 162.38M661.9 26.1L660.2 160.96L663.85 160.96L660.19 162.25L656.55 160.96L660.2 160.96M660.5 23.5L660.8 196.83L664.45 196.83L660.8 198.13L657.15 196.83L660.8 196.83M662 60L663.93 180.39L667.58 180.39L663.95 181.68L660.28 180.39L663.93 180.39M650.46 112.43L660.74 175.61L664.39 175.6L660.95 176.9L657.09 175.61L660.74 175.61M628.09 105.01L656.72 201.4L660.37 201.39L657.11 202.69L653.07 201.4L656.72 201.4M650.46 112.43L657.01 201.4L660.66 201.4L657.11 202.69L653.36 201.4L657.01 201.4M659.13 121.54L662.5 184.29L666.15 184.29L662.57 185.58L658.85 184.29L662.5 184.29M659.94 120.55L657.15 201.4L660.8 201.4L657.11 202.69L653.5 201.4L657.15 201.4M656.26 112.58L657.78 203.85L661.43 203.85L657.8 205.15L654.13 203.85L657.78 203.85M657.04 122.05L658.94 156.1L662.59 156.1L659.01 157.39L655.29 156.1L658.94 156.1M658.86 117.24L660.17 187.08L663.82 187.08L660.19 188.37L656.52 187.08L660.17 187.08M654.1 129.16L659.13 176.07L662.78 176.07L659.27 177.37L655.49 176.07L659.13 176.07M660.05 117.22L664.8 201.44L668.45 201.44L664.87 202.74L661.15 201.44L664.8 201.44M651.92 111.77L660.71 161.69L664.36 161.69L660.94 162.99L657.06 161.69L660.71 161.69M653.5 110.12L657.32 199.27L660.96 199.27L657.37 200.56L653.67 199.27L657.32 199.27M645.2 110.12L660.21 206.7L663.85 206.7L660.41 208L656.56 206.7L660.21 206.7M623.84 114.63L657.35 168.37L661 168.37L658.16 169.67L653.7 168.38L657.35 168.37M655.14 105.27L663.8 180.39L667.45 180.39L663.95 181.68L660.16 180.39L663.8 180.39M645.2 110.12L658.19 192.23L661.84 192.23L658.39 193.53L654.54 192.23L658.19 192.23M651.92 111.77L658.08 192.69L661.73 192.69L658.18 193.99L654.43 192.69L658.08 192.69M654.61 113.63L657.09 155.41L660.74 155.41L657.16 156.71L653.44 155.41L657.09 155.41M592.7 95.3L651.79 158.71L655.44 158.69L653 160L648.15 158.72L651.79 158.71M606.1 95.6L657.11 169.7L660.75 169.7L658 171L653.46 169.71L657.11 169.7M592.7 95.3L637.32 116.71L640.94 116.69L640 118L633.7 116.74L637.32 116.71" stroke="#ff0000" stroke-opacity="0.88" stroke-width="0.7" fill="none" stroke-linejoin="miter"/>
<path d="M627 112.5L651 112.5M629 115L652 115M632 117.5L650 117.5" stroke="#ff0000" stroke-opacity="0.3" stroke-width="0.8"/>
<circle cx="431.7" cy="166.6" r="6.64" fill="none" stroke="#d9d9d9" stroke-width="0.6"/>
<circle cx="431.7" cy="166.6" r="13.28" fill="none" stroke="#d9d9d9" stroke-width="0.6"/>
<circle cx="431.7" cy="166.6" r="19.92" fill="none" stroke="#d9d9d9" stroke-width="0.6"/>
<circle cx="431.7" cy="166.6" r="26.56" fill="none" stroke="#d9d9d9" stroke-width="0.6"/>
<circle cx="431.7" cy="166.6" r="33.2" fill="none" stroke="#d9d9d9" stroke-width="0.6"/>
<line x1="431.7" y1="166.6" x2="466" y2="166.6" stroke="#d9d9d9" stroke-width="0.6"/>
<line x1="431.7" y1="166.6" x2="455.95" y2="142.35" stroke="#d9d9d9" stroke-width="0.6"/>
<line x1="431.7" y1="166.6" x2="431.7" y2="132.3" stroke="#d9d9d9" stroke-width="0.6"/>
<line x1="431.7" y1="166.6" x2="407.45" y2="142.35" stroke="#d9d9d9" stroke-width="0.6"/>
<line x1="431.7" y1="166.6" x2="397.4" y2="166.6" stroke="#d9d9d9" stroke-width="0.6"/>
<line x1="431.7" y1="166.6" x2="407.45" y2="190.85" stroke="#d9d9d9" stroke-width="0.6"/>
<line x1="431.7" y1="166.6" x2="431.7" y2="200.9" stroke="#d9d9d9" stroke-width="0.6"/>
<line x1="431.7" y1="166.6" x2="455.95" y2="190.85" stroke="#d9d9d9" stroke-width="0.6"/>
<circle cx="431.7" cy="166.6" r="34.3" fill="none" stroke="#a8a8a8" stroke-width="0.8"/>
<text x="465.11" y="169.1" font-size="8.8" textLength="9.39" lengthAdjust="spacingAndGlyphs" fill="#1a1a1a">0&#176;</text>
<text x="451.35" y="142.66" font-size="8.8" textLength="14.81" lengthAdjust="spacingAndGlyphs" fill="#1a1a1a">45&#176;</text>
<text x="424.23" y="131.72" font-size="8.8" textLength="15.07" lengthAdjust="spacingAndGlyphs" fill="#1a1a1a">90&#176;</text>
<text x="394.7" y="142.66" font-size="8.8" textLength="20.12" lengthAdjust="spacingAndGlyphs" fill="#1a1a1a">135&#176;</text>
<text x="383.57" y="169.1" font-size="8.8" textLength="20.12" lengthAdjust="spacingAndGlyphs" fill="#1a1a1a">180&#176;</text>
<text x="394.95" y="195.53" font-size="8.8" textLength="19.87" lengthAdjust="spacingAndGlyphs" fill="#1a1a1a">225&#176;</text>
<text x="421.82" y="206.48" font-size="8.8" textLength="19.87" lengthAdjust="spacingAndGlyphs" fill="#1a1a1a">270&#176;</text>
<text x="448.81" y="195.53" font-size="8.8" textLength="19.74" lengthAdjust="spacingAndGlyphs" fill="#1a1a1a">315&#176;</text>
<text x="440.98" y="164.06" font-size="3.7" text-anchor="middle" fill="#444" style="stroke:none">20%</text>
<text x="447.11" y="161.52" font-size="3.7" text-anchor="middle" fill="#444" style="stroke:none">40%</text>
<text x="453.24" y="158.98" font-size="3.7" text-anchor="middle" fill="#444" style="stroke:none">60%</text>
<text x="459.38" y="156.43" font-size="3.7" text-anchor="middle" fill="#444" style="stroke:none">80%</text>
<text x="465.51" y="153.89" font-size="3.7" text-anchor="middle" fill="#444" style="stroke:none">100%</text>
<path d="M432.01 166.47L444.41 135.93L431.57 166.29L431.39 166.47L431.39 166.73L431.57 166.91L444.02 196.35L432.01 166.73Z" fill="none" stroke="#2a2aff" stroke-opacity="0.85" stroke-width="1.3" stroke-linejoin="round"/>
<path d="M59 352.77h1.6M85.89 356.08h1.6M50.74 347.3h1.6M46.99 350.01h1.6M76.13 351.64h1.6M94.43 354.56h1.6M86.34 353.51h1.6M99.64 357.73h1.6M58.16 354.37h1.6M69.92 345.72h1.6M85.99 356.22h1.6M48.03 351.07h1.6M86.8 357.03h1.6M62.77 347.28h1.6M90.78 355.4h1.6M77.36 348.32h1.6M84.75 352.54h1.6M74.37 353.92h1.6M67.57 346.68h1.6M88.93 353.69h1.6M100.01 359.16h1.6M87.22 360.2h1.6M109.69 362.58h1.6M52.49 350.16h1.6M95.09 355.25h1.6M72.12 356.64h1.6M50.33 349.93h1.6M53.09 349.52h1.6M61.45 358.62h1.6M66.56 347.31h1.6M93.48 353.02h1.6M65.7 360.53h1.6M77.59 351.59h1.6M61.05 352.75h1.6M67.47 355.88h1.6M49.94 352.09h1.6M69.53 346.78h1.6M70.83 355.26h1.6M81.31 348.33h1.6M107.44 361.51h1.6M65.29 347.87h1.6M46.78 348.22h1.6M59.29 352.61h1.6M47.53 349.91h1.6M64.39 344.06h1.6M82.7 353.07h1.6M63.98 353.94h1.6M110.43 358.06h1.6M67.44 351.24h1.6M61.89 351.26h1.6M97.67 348.71h1.6M58.89 350.43h1.6M80.92 365.92h1.6M105.88 359.99h1.6M64.47 348.96h1.6M91.95 350.05h1.6M60.83 347.65h1.6M107.56 365.95h1.6M106.55 358.18h1.6M55.91 346.85h1.6M48.69 351.02h1.6M102.06 353.31h1.6M110.35 356.76h1.6M60.92 353.2h1.6M60.36 358.23h1.6M102.55 362.92h1.6M92.25 351.02h1.6M107.2 356.7h1.6M87.54 351.69h1.6M75.47 346.89h1.6M112.91 363.6h1.6M83.02 348.5h1.6M59.01 345.88h1.6M76.12 358.22h1.6M114.48 360.9h1.6M55.54 347.5h1.6M114.44 364.15h1.6M77.27 355.6h1.6M98.43 357.34h1.6M70.04 349.6h1.6M65.8 346.35h1.6M66.79 345.9h1.6M93.79 363.65h1.6M68.65 348.42h1.6M55.65 353.69h1.6M53.37 350.27h1.6M67.18 353.81h1.6M68.31 358.6h1.6M92.03 351.96h1.6M62.19 349h1.6M87.97 361.53h1.6M101.99 360.12h1.6M87.94 361.39h1.6M68.69 353.63h1.6M79.04 356.85h1.6M99.18 364h1.6M94.36 355.32h1.6M66.38 354.82h1.6M48.34 346.61h1.6M93.68 353.76h1.6M73.33 354.84h1.6M110.04 360.13h1.6M79.32 358.1h1.6M115.53 358.06h1.6M66.11 356.71h1.6M63.25 352.8h1.6M80.81 358.61h1.6M49.16 351.88h1.6M88.04 343.81h1.6M94.78 352.29h1.6M61.91 345.3h1.6M58.46 350.09h1.6M78.28 352.63h1.6M78.47 357.06h1.6M90.8 354.44h1.6M86.76 354.06h1.6M54.62 355.78h1.6M76.88 359.69h1.6M53.94 354.41h1.6M94.12 355.37h1.6M58.45 354.68h1.6M59.27 352.4h1.6M47.99 351.73h1.6M84.78 351.31h1.6M59.68 352.39h1.6M55.56 350.81h1.6M88.61 353.36h1.6M96.83 353.23h1.6M101.83 364.06h1.6M68.02 352.79h1.6M94.94 360.35h1.6M89.85 348.99h1.6M63.98 350.43h1.6M52.84 350.42h1.6M59.31 345.27h1.6M105.48 355.8h1.6M61.31 353.38h1.6M66.47 348.22h1.6M79.55 348.84h1.6M79.65 355.08h1.6M64.21 348.41h1.6M67.92 353.01h1.6M67.97 349.61h1.6M65.3 352.59h1.6M46.37 351.44h1.6M88.29 352.18h1.6M90.17 357.22h1.6M63.44 360.87h1.6M111.43 359.63h1.6M53.69 356.35h1.6M104.82 359.06h1.6M68.45 361.07h1.6M76.34 351.12h1.6M93.62 362.88h1.6M90.69 355.45h1.6M64.32 351.51h1.6M76.36 359.5h1.6M90.51 357.56h1.6M55.26 349.49h1.6M68.74 360.07h1.6M81.49 354.6h1.6M48.56 353.11h1.6M83.53 355.27h1.6M64.87 364.23h1.6M72.5 352.84h1.6M81.66 360.22h1.6M61.61 352.36h1.6M80.7 357.89h1.6M48.59 353h1.6M84.79 360.38h1.6M66.95 355.05h1.6M98.25 356.91h1.6M116.16 357.35h1.6M110.05 358.67h1.6M61.98 349.77h1.6M69.91 343.01h1.6M68.46 350.85h1.6M103 358.81h1.6M105.98 357.92h1.6M55.8 343.28h1.6M50.6 353.45h1.6M63.89 351.42h1.6M76.47 346.67h1.6M97.04 356.93h1.6M106.13 356.74h1.6M65.13 354.72h1.6M114.07 360.75h1.6M56.4 348.37h1.6M76.33 356.08h1.6M61.91 342.83h1.6M59.99 359.06h1.6M107.65 353.99h1.6M93.92 351.89h1.6M81.25 356.27h1.6M87.14 354.77h1.6M56.42 357.09h1.6M97.15 360.19h1.6M73.91 352.92h1.6M112.1 360.22h1.6M86.31 357.76h1.6M59.27 349.62h1.6M60.75 343.55h1.6M110.48 360.27h1.6M57.47 351h1.6M57.48 351.46h1.6M93.54 353.3h1.6M86.58 359.22h1.6M63.75 349.85h1.6M48.67 349.15h1.6M71.13 353.8h1.6M98.51 357.67h1.6M66.48 349.61h1.6M108.21 358.43h1.6M52.56 351.54h1.6M102.46 358.26h1.6M78.67 354.11h1.6M108.32 356.87h1.6M59.09 352.4h1.6M72.46 346.98h1.6M91.74 358.06h1.6M69.15 345.74h1.6M78.49 352.21h1.6M84.98 352.43h1.6M90.77 353.41h1.6M56.96 356.69h1.6M60.84 352.93h1.6M80.67 355.77h1.6M105.08 355.49h1.6M102.49 358h1.6M106.01 356.51h1.6M55.73 357.19h1.6M61.7 352.15h1.6M94.1 356.2h1.6M65.83 351.64h1.6M83.43 352.49h1.6M60.38 358.4h1.6M99.98 356.64h1.6M74.45 356.5h1.6M79.3 356.88h1.6M65.75 352.68h1.6M94.44 354.17h1.6M79.87 350.78h1.6M56.49 347.93h1.6M108.75 357.91h1.6M95.16 353.61h1.6M78.9 355.68h1.6M80.99 356.42h1.6M63.58 355.99h1.6M55.25 352.03h1.6M97.09 353.8h1.6M98.38 361.24h1.6M101.83 353.48h1.6M50.43 355.93h1.6M64.41 345.76h1.6M95.66 362.29h1.6M81.12 350.15h1.6M46.73 348.76h1.6M93.71 357.65h1.6M62.08 346.75h1.6M73.34 355.14h1.6M62.16 345.34h1.6M104.92 358.41h1.6M95.57 356.25h1.6M109.83 356.14h1.6M61.54 356.53h1.6M98 355.5h1.6M106.52 356.56h1.6M85.33 361.23h1.6M64.35 352.22h1.6M74.26 355.37h1.6M56.82 346.75h1.6M80.02 353.05h1.6M110.35 359.09h1.6M67.81 351.19h1.6M87.08 354.43h1.6M90.41 351.37h1.6M92.95 357.08h1.6M99.7 359.04h1.6M85.99 354.97h1.6M61.39 354.9h1.6M77.59 357.33h1.6M80.33 356.02h1.6M61.04 350h1.6M111.15 362.29h1.6M75.94 348.65h1.6M48.81 356.62h1.6M59.98 346.73h1.6M100.91 358.59h1.6M102.08 358.47h1.6M96.82 350.83h1.6M89.62 354.55h1.6M60.34 348.23h1.6M70.37 354.98h1.6M49.12 352.49h1.6M83.24 355.59h1.6M88.56 352.51h1.6M47.08 353.7h1.6M81.86 351.08h1.6M72.8 356.5h1.6M79.33 352.25h1.6M69.53 356.03h1.6M110.48 357.03h1.6M60.17 352.39h1.6M54.29 353.73h1.6M75.97 361.24h1.6M59.29 347.29h1.6M51.14 355.54h1.6M70.95 360.73h1.6M67.96 350.86h1.6M78.63 351.28h1.6M67.61 349.14h1.6M58.39 361.52h1.6M110.16 359.79h1.6M101.15 357.8h1.6M104.71 357.73h1.6M83.78 356.79h1.6M76.63 352.56h1.6M65.31 355.09h1.6M64.9 350.35h1.6M93.69 354.27h1.6M51.23 350.79h1.6M97 357.97h1.6M88.59 357.58h1.6M69.94 355.91h1.6M71.87 357.83h1.6M51.74 349.69h1.6M61.14 351.54h1.6M59.73 358.94h1.6M57.89 348.82h1.6M66.38 349.52h1.6M56.21 352.54h1.6M91.93 357.08h1.6M56.55 355.32h1.6M97.28 357.14h1.6M110.48 359.51h1.6M80.06 362h1.6M79.42 351.91h1.6M94.18 357.49h1.6M49.33 350.67h1.6M99.41 359.49h1.6M97.4 364.92h1.6M61.84 352.37h1.6M63.26 349.84h1.6M78.91 353.46h1.6M93.66 353.01h1.6M68.63 346.4h1.6M85.8 351h1.6M93.47 359.65h1.6M80.34 357.16h1.6M84.41 357.7h1.6M114 361.62h1.6M59.66 346.68h1.6M81.23 352.92h1.6M94.96 359.08h1.6M90.26 355.57h1.6M47.52 350.57h1.6M86.86 363.77h1.6M60.94 352.81h1.6M80.85 350.28h1.6M64.23 352.49h1.6M69.97 355.74h1.6M87.49 356.42h1.6M78.91 353.99h1.6M71.35 350.89h1.6M107.19 360.46h1.6M51.98 349.36h1.6M85.66 357.52h1.6M106.45 361.04h1.6M78.08 348.92h1.6M61.2 350.78h1.6M53.18 346.54h1.6M97.38 356.73h1.6M70.59 359.54h1.6M97.87 357.4h1.6M62.79 344.03h1.6M91.02 353.15h1.6M53.77 351.3h1.6M87.16 359.58h1.6M57.84 351.59h1.6M74.18 352.42h1.6M92.93 356.79h1.6M86.92 358.07h1.6M88.2 355.59h1.6M98.52 352.47h1.6M95.43 356.81h1.6M94.38 353.68h1.6M85.32 351.95h1.6M78.18 356.64h1.6M90.69 361.21h1.6M76.46 364.18h1.6M93.1 361.77h1.6M85.04 352.06h1.6M70.96 344.86h1.6M55.86 347.47h1.6M78.72 355.4h1.6M46.55 349.41h1.6M89.82 357.55h1.6M51.49 356.16h1.6M75.9 349.95h1.6M53.98 358.25h1.6M109.68 357.61h1.6M56.05 349.84h1.6M107.65 362.08h1.6M84.74 360.54h1.6M57.66 351.56h1.6M65.92 355.69h1.6M48.48 351.74h1.6M63.31 345.93h1.6M102.92 355.78h1.6M49.89 354.38h1.6M74.77 357.55h1.6M83.7 349.11h1.6M96.59 355.98h1.6M47.99 352.43h1.6M94.87 352.24h1.6M75.37 353.61h1.6M67.71 357.76h1.6M79.1 347.48h1.6M60.62 353.57h1.6M71.31 358.23h1.6M75.15 356.21h1.6M85.74 361.76h1.6M65.18 351.28h1.6M95.58 357.65h1.6M61.85 348.28h1.6M77.58 356.91h1.6M66.86 360.05h1.6M90 356.76h1.6M63.45 347.93h1.6M91.41 349.46h1.6M45.62 343.32h1.6M47.15 344.83h1.6M44.61 346.33h1.6M49.18 343.82h1.6M80.73 340.81h1.6M88.87 341.81h1.6M74.62 342.32h1.6M62.41 342.82h1.6M97.01 344.83h1.6M103.11 343.82h1.6M111.25 345.83h1.6M117.36 349.85h1.6M120.41 352.86h1.6M116.34 360.89h1.6M109.22 363.91h1.6M97.01 364.91h1.6M66.48 363.91h1.6M76.66 365.41h1.6M54.27 359.89h1.6M114.31 355.87h1.6M121.43 356.38h1.6M108.2 358.89h1.6M129.26 348.84h1.6M157.45 352.46h1.6M159.49 356.07h1.6M163.66 341.92h1.6M166.51 349.04h1.6M178.51 350.85h1.6M184.82 346.33h1.6M184.82 348.34h1.6M192.56 354.87h1.6M204.87 358.48h1.6M215.76 353.26h1.6M224 356.88h1.6M227.15 354.07h1.6M233.66 350.15h1.6M233.16 354.77h1.6M243.84 357.88h1.6M257.58 358.38h1.6M276.4 360.59h1.6M299.3 360.89h1.6M300.92 361.6h1.6M303.47 359.69h1.6M279.45 367.52h1.6M280.47 369.63h1.6M288 371.44h1.6M289.53 370.53h1.6M295.02 367.22h1.6M293.09 371.94h1.6M293.5 372.84h1.6M296.65 372.64h1.6M297.67 371.44h1.6M298.89 372.64h1.6M306.11 366.62h1.6M306.72 368.43h1.6M305.71 369.03h1.6M308.56 370.23h1.6M309.78 371.44h1.6M311 370.84h1.6M312.83 371.44h1.6M304.99 372.64h1.6M306.72 373.85h1.6M275.18 377.16h1.6M291.87 378.57h1.6M301.33 375.56h1.6M301.94 374.95h1.6M306.11 376.16h1.6M307.34 377.36h1.6M308.56 378.57h1.6M310.39 379.77h1.6M312.22 380.98h1.6M313.44 381.58h1.6M314.66 382.18h1.6M316.49 382.79h1.6M306.72 380.98h1.6M307.95 382.18h1.6M306.11 383.39h1.6M308.56 384.59h1.6M312.83 375.56h1.6M317.1 379.17h1.6M319.55 385.8h1.6M281.29 383.59h1.6M298.89 383.39h1.6M300.11 382.18h1.6M303.77 382.18h1.6M304.38 379.77h1.6M303.16 387h1.6M294.62 387.91h1.6M310.39 387h1.6M311.61 388.21h1.6M312.83 389.41h1.6M311 385.8h1.6M314.66 387h1.6M315.88 388.21h1.6M318.32 390.52h1.6M303.77 391.72h1.6M305.61 391.72h1.6M303.16 394.74h1.6M304.38 395.34h1.6M314.05 392.33h1.6M315.27 394.13h1.6M315.88 395.34h1.6M314.66 396.54h1.6M317.1 394.74h1.6M318.32 396.54h1.6M300.42 402.57h1.6M313.44 401.97h1.6M315.88 399.56h1.6M317.1 398.95h1.6M318.32 403.17h1.6M320.77 403.17h1.6M319.55 406.18h1.6M317.1 407.29h1.6M320.77 408.49h1.6M314.15 402.27h1.6M314.86 403.07h1.6M320.16 402.27h1.6M321.38 403.07h1.6M317.1 405.28h1.6M318.63 406.79h1.6M320.16 408.29h1.6M321.68 409.1h1.6M314.15 409.8h1.6M315.68 410.5h1.6M317.1 411.31h1.6M317.92 412.01h1.6M314.15 413.21h1.6M320.97 414.72h1.6M321.68 415.02h1.6M320.16 418.84h1.6M320.97 419.54h1.6M319.44 418.84h1.6M315.68 420.75h1.6M316.8 421.35h1.6M316.39 426.27h1.6M319.44 427.77h1.6M318.63 431.19h1.6M320.16 435.31h1.6M314.86 438.32h1.6M318.63 438.72h1.6M320.16 439.32h1.6M316.39 445.05h1.6M317.92 452.78h1.6M321.68 452.18h1.6M319.85 460.41h1.6M318.63 464.83h1.6M320.16 467.24h1.6M303.41 374.3h1.6M313.25 385.43h1.6M315.5 392.99h1.6M307.13 370.24h1.6M307.33 373.85h1.6M307.38 376.2h1.6M310.65 384.09h1.6M317.67 391.56h1.6M301.46 376.33h1.6M314.07 385.48h1.6M306.36 371.95h1.6M306.7 373.83h1.6M310.26 373.86h1.6M309.17 378.51h1.6M304.67 369.77h1.6M315.44 385.52h1.6M311.58 379.76h1.6M306.65 367.78h1.6M312.81 382.53h1.6M311.48 383.09h1.6M307.77 375.11h1.6M310.36 374.22h1.6M312.27 387.53h1.6M308.64 377.67h1.6M314 384.74h1.6M312.94 382.07h1.6M311.13 380.58h1.6M313.11 386.56h1.6M315.14 392.31h1.6M308.48 381.7h1.6M308.39 376.95h1.6M306.77 385.46h1.6M306.34 370.65h1.6M318.12 393.88h1.6M310.46 378.05h1.6M311.58 378.62h1.6M309.12 376.24h1.6M308.36 379.74h1.6M314.65 392.11h1.6M313.28 390.16h1.6M306.78 365.89h1.6M309.77 385.23h1.6M309.2 373.19h1.6M313.96 379.57h1.6M309.6 383.8h1.6" stroke="#000" stroke-width="1.6" fill="none"/>
<rect x="33.5" y="266.6" width="302.9" height="210" fill="none" stroke="#b9b9b9" stroke-width="1"/>
<line x1="31.3" y1="457.7" x2="33.5" y2="457.7" stroke="#b9b9b9" stroke-width="0.8"/>
<text x="24.79" y="461.9" font-size="11.7" textLength="7.03" lengthAdjust="spacingAndGlyphs" fill="#1a1a1a">1</text>
<line x1="31.3" y1="419.5" x2="33.5" y2="419.5" stroke="#b9b9b9" stroke-width="0.8"/>
<text x="24.82" y="423.7" font-size="11.7" textLength="7.03" lengthAdjust="spacingAndGlyphs" fill="#1a1a1a">2</text>
<line x1="31.3" y1="381.3" x2="33.5" y2="381.3" stroke="#b9b9b9" stroke-width="0.8"/>
<text x="24.72" y="385.5" font-size="11.7" textLength="7.03" lengthAdjust="spacingAndGlyphs" fill="#1a1a1a">3</text>
<line x1="31.3" y1="343.1" x2="33.5" y2="343.1" stroke="#b9b9b9" stroke-width="0.8"/>
<text x="24.53" y="347.3" font-size="11.7" textLength="7.03" lengthAdjust="spacingAndGlyphs" fill="#1a1a1a">4</text>
<line x1="31.3" y1="304.9" x2="33.5" y2="304.9" stroke="#b9b9b9" stroke-width="0.8"/>
<text x="24.69" y="309.1" font-size="11.7" textLength="7.03" lengthAdjust="spacingAndGlyphs" fill="#1a1a1a">5</text>
<line x1="31.3" y1="266.7" x2="33.5" y2="266.7" stroke="#b9b9b9" stroke-width="0.8"/>
<text x="24.72" y="270.9" font-size="11.7" textLength="7.03" lengthAdjust="spacingAndGlyphs" fill="#1a1a1a">6</text>
<line x1="39.3" y1="476.6" x2="39.3" y2="478.8" stroke="#b9b9b9" stroke-width="0.8"/>
<text x="30.7" y="486.9" font-size="11.7" textLength="17.22" lengthAdjust="spacingAndGlyphs" fill="#1a1a1a">0.3</text>
<line x1="106" y1="476.6" x2="106" y2="478.8" stroke="#b9b9b9" stroke-width="0.8"/>
<text x="97.41" y="486.9" font-size="11.7" textLength="17.03" lengthAdjust="spacingAndGlyphs" fill="#1a1a1a">0.4</text>
<line x1="172.7" y1="476.6" x2="172.7" y2="478.8" stroke="#b9b9b9" stroke-width="0.8"/>
<text x="164.11" y="486.9" font-size="11.7" textLength="17.19" lengthAdjust="spacingAndGlyphs" fill="#1a1a1a">0.5</text>
<line x1="239.4" y1="476.6" x2="239.4" y2="478.8" stroke="#b9b9b9" stroke-width="0.8"/>
<text x="230.8" y="486.9" font-size="11.7" textLength="17.22" lengthAdjust="spacingAndGlyphs" fill="#1a1a1a">0.6</text>
<line x1="306.1" y1="476.6" x2="306.1" y2="478.8" stroke="#b9b9b9" stroke-width="0.8"/>
<text x="297.5" y="486.9" font-size="11.7" textLength="17.32" lengthAdjust="spacingAndGlyphs" fill="#1a1a1a">0.7</text>
<text x="123" y="499.2" font-size="11.3" fill="#1a1a1a" textLength="125" lengthAdjust="spacingAndGlyphs">Oscillation Index(<tspan font-style="italic">OI</tspan><tspan font-size="8" dy="2.6">avg</tspan><tspan dy="-2.6">)</tspan></text>
<text transform="translate(19.6 429.6) rotate(-90)" x="0" y="0" font-size="11.3" fill="#1a1a1a" textLength="116" lengthAdjust="spacingAndGlyphs">Spectrum Slope(<tspan font-style="italic">&#947;</tspan><tspan font-size="8" dy="2.6">avg</tspan><tspan dy="-2.6">)</tspan></text>
<path d="M74.98 352.42L298.72 382.17L302.09 382.09L307.69 383.37L295.35 382.26L298.72 382.17M62.41 352.36L273.8 371.22L276.89 371.11L286.05 372.32L270.71 371.34L273.8 371.22M61.94 351.54L299.13 383.48L302.5 383.39L308 384.67L295.75 383.56L299.13 383.48M74.98 352.42L296.27 375.04L299.47 374.94L307.36 376.18L293.07 375.15L296.27 375.04M64.78 353.94L291.24 372.88L294.27 372.76L304.05 373.95L288.21 373L291.24 372.88M62.5 352.15L304.98 382.18L308.31 382.09L314.5 383.36L301.65 382.27L304.98 382.18M66.1 352.59L288.02 367.8L290.83 367.67L302.56 368.8L285.2 367.94L288.02 367.8M64.38 355.99L288.38 371.39L291.2 371.26L302.89 372.39L285.56 371.53L288.38 371.39M69.26 350.85L280.65 359.56L282.8 359.39L299.06 360.32L278.51 359.73L280.65 359.56M65.27 348.96L298.75 371.74L301.91 371.63L310.23 372.86L295.59 371.85L298.75 371.74M58.27 351L304.48 380.36L307.78 380.27L314.29 381.53L301.17 380.45L304.48 380.36M75.57 357.55L302.45 382.1L305.69 382.01L313.06 383.25L299.21 382.2L302.45 382.1M58.27 351L305.78 392.27L309.25 392.2L313.14 393.5L302.31 392.34L305.78 392.27M65.93 354.72L314.21 404.5L317.74 404.44L320.44 405.75L310.68 404.56L314.21 404.5M64.78 350.43L268.99 370.68L272.17 370.57L280.33 371.8L265.81 370.78L268.99 370.68M70.74 355.91L292.04 383.03L295.36 382.94L301.64 384.21L288.72 383.12L292.04 383.03M81.13 356.02L309.95 420.98L313.55 420.94L314.44 422.25L306.36 421.02L309.95 420.98M61.74 352.81L296.7 375.09L299.85 374.98L308.43 376.2L293.56 375.2L296.7 375.09M62.34 356.53L311.64 442.91L315.26 442.88L315.34 444.19L308.02 442.94L311.64 442.91M81.79 356.42L284.75 375.02L287.86 374.91L296.77 376.12L281.64 375.13L284.75 375.02M71.63 355.26L289.52 371.23L292.41 371.1L303.48 372.26L286.63 371.36L289.52 371.23M66.09 347.87L288.36 377.02L291.72 376.94L297.44 378.21L285 377.1L288.36 377.02M80.45 355.08L307.56 390.85L311.01 390.78L315.31 392.07L304.11 390.92L307.56 390.85M60.53 358.94L293.43 370.01L295.77 369.85L310.88 370.84L291.09 370.17L293.43 370.01M65.15 352.22L291.97 380.11L295.3 380.02L301.55 381.28L288.65 380.2L291.97 380.11M63.57 347.28L283.93 389.04L287.44 388.98L290.49 390.28L280.41 389.1L283.93 389.04M79.08 352.63L312.04 425.8L315.65 425.77L316.11 427.08L308.43 425.84L312.04 425.8M80.12 358.1L309.55 402.68L313.07 402.62L315.96 403.92L306.03 402.74L309.55 402.68M68.61 351.19L315.6 412.46L319.17 412.41L320.7 413.72L312.03 412.51L315.6 412.46M62.41 352.36L302 386.5L305.4 386.42L310.45 387.7L298.59 386.57L302 386.5M61.18 358.4L273.5 371.86L276.22 371.72L288.7 372.83L270.77 372.01L273.5 371.86M79.43 351.28L307.02 401.09L310.57 401.04L312.77 402.35L303.48 401.14L307.02 401.09M69.26 350.85L290.48 372.12L293.63 372.02L302.08 373.24L287.32 372.23L290.48 372.12M77.13 356.08L293.38 388.53L296.81 388.45L301.47 389.74L289.96 388.6L293.38 388.53M80.22 351.91L293.19 367.86L296.1 367.74L306.96 368.9L290.27 367.99L293.19 367.86M66.1 352.59L307.15 388.04L310.57 387.97L315.38 389.25L303.73 388.12L307.15 388.04M65.01 348.41L311.37 435.43L314.99 435.4L315 436.71L307.75 435.47L311.37 435.43M76.92 358.22L296.2 379.89L299.37 379.78L307.57 381.01L293.02 379.99L296.2 379.89M66.09 347.87L313.75 401.8L317.3 401.75L319.52 403.06L310.2 401.86L313.75 401.8M61.74 352.81L282.64 371.32L285.67 371.2L295.44 372.39L279.61 371.44L282.64 371.32M72.15 350.89L294.72 375.53L297.98 375.43L305.15 376.68L291.47 375.62L294.72 375.53M68.51 357.76L286.76 365.62L288.71 365.44L305.96 366.31L284.8 365.8L286.76 365.62M73.3 352.84L283.7 385.54L287.15 385.47L291.54 386.76L280.26 385.62L283.7 385.54M79.71 353.46L294.56 387.9L298.02 387.82L302.2 389.12L291.11 387.97L294.56 387.9M80.35 348.84L287.97 387.16L291.48 387.1L294.7 388.4L284.47 387.22L287.97 387.16M66.09 347.87L295.39 394.78L298.93 394.73L301.51 396.03L291.86 394.84L295.39 394.78M79.71 353.46L298.4 382.09L301.77 382L307.5 383.28L295.04 382.17L298.4 382.09M82.05 356.27L287.66 370.61L290.5 370.48L302.05 371.61L284.83 370.74L287.66 370.61M74.14 355.14L280.26 359.34L281.49 359.15L301.62 359.78L279.03 359.54L280.26 359.34M79.71 353.99L310.68 419.53L314.28 419.49L315.17 420.81L307.09 419.58L310.68 419.53M62.78 349.77L311.26 400.81L314.8 400.75L317.35 402.06L307.73 400.86L311.26 400.81M60.09 352.61L276.69 372.84L279.81 372.73L288.54 373.95L273.56 372.95L276.69 372.84M79.71 353.46L302.49 381.23L305.83 381.14L311.96 382.41L299.16 381.32L302.49 381.23M61.72 353.2L290.65 367.52L293.35 367.38L305.96 368.48L287.94 367.66L290.65 367.52M79.29 352.21L293.02 375.99L296.28 375.89L303.4 377.14L289.76 376.08L293.02 375.99M80.35 348.84L289.94 364.54L292.86 364.41L303.72 365.57L287.03 364.67L289.94 364.54M79.9 347.48L302.15 386.33L305.64 386.27L309.21 387.57L298.67 386.4L302.15 386.33M68.82 352.79L276.78 358.91L278.46 358.72L296.95 359.5L275.1 359.09L276.78 358.91M72.11 358.23L303.86 384.13L307.13 384.03L314.21 385.28L300.6 384.22L303.86 384.13M74.98 352.42L302.61 385.35L306.02 385.28L310.96 386.56L299.2 385.43L302.61 385.35M68.51 357.76L306.09 391.69L309.49 391.61L314.53 392.89L302.68 391.77L306.09 391.69M62.19 354.9L298.82 383.75L302.14 383.66L308.46 384.93L295.5 383.84L298.82 383.75M72.15 350.89L277.73 360.52L280.05 360.36L295.28 361.34L275.41 360.68L277.73 360.52M75.25 356.5L300.17 383.58L303.48 383.49L309.91 384.76L296.85 383.67L300.17 383.58M62.5 352.15L311.76 412.91L315.33 412.86L316.95 414.17L308.19 412.96L311.76 412.91M81.79 356.42L293.02 380.14L296.28 380.04L303.32 381.29L289.75 380.23L293.02 380.14M58.96 354.37L293.27 373.14L296.26 373.01L306.46 374.19L290.29 373.26L293.27 373.14M75.17 353.92L296.97 379.13L300.25 379.04L307.18 380.29L293.7 379.23L296.97 379.13M65.7 350.35L295.85 382.27L299.24 382.19L304.5 383.47L292.46 382.35L295.85 382.27M82.05 356.27L312.05 426.55L315.65 426.51L316.22 427.83L308.44 426.59L312.05 426.55M78.39 351.59L302.09 383.75L305.5 383.68L310.48 384.96L298.68 383.83L302.09 383.75M61.85 352.75L279.88 377.34L283.15 377.24L290.15 378.5L276.61 377.43L279.88 377.34M59.25 354.68L290.81 370.69L293.63 370.56L305.27 371.69L287.98 370.83L290.81 370.69M61.63 347.65L297.91 384.05L301.35 383.97L305.81 385.26L294.47 384.12L297.91 384.05M79.43 351.28L280.73 369.05L283.81 368.94L293.08 370.14L277.66 369.17L280.73 369.05M60.07 349.62L278.06 371.57L281.25 371.47L289.27 372.7L274.87 371.68L278.06 371.57M64.55 349.85L305.64 411.75L309.22 411.7L310.58 413.01L302.06 411.79L305.64 411.75M79.52 355.4L306.49 394.2L309.97 394.13L313.7 395.43L303.02 394.26L306.49 394.2M59.89 352.4L304.88 397.3L308.38 397.24L311.65 398.54L301.38 397.37L304.88 397.3M67.27 348.22L302.19 390.89L305.69 390.82L309.01 392.13L298.69 390.95L302.19 390.89M81.13 356.02L278.91 360.18L280.17 359.98L300.19 360.63L277.64 360.38L278.91 360.18M66.63 351.64L303.27 387.3L306.7 387.22L311.33 388.51L299.84 387.37L303.27 387.3M77.14 351.12L300.82 378.35L304.14 378.26L310.47 379.53L297.5 378.44L300.82 378.35M79.7 355.68L295.53 381.51L298.84 381.42L305.32 382.68L292.22 381.6L295.53 381.51M79.43 351.28L293.07 369.13L296.09 369.01L305.89 370.2L290.04 369.25L293.07 369.13M59.26 350.09L301.12 378.04L304.4 377.95L311.19 379.21L297.83 378.13L301.12 378.04M65.01 348.41L302.97 387.64L306.44 387.57L310.41 388.87L299.51 387.71L302.97 387.64M58.69 348.82L288.58 368.89L291.65 368.77L301.02 369.97L285.52 369L288.58 368.89M79.84 356.85L309.89 384.48L313.2 384.39L319.66 385.65L306.58 384.57L309.89 384.48M81.14 357.16L291.65 372.45L294.53 372.32L305.69 373.47L288.77 372.58L291.65 372.45M58.27 351L308.42 410.9L311.99 410.85L313.69 412.16L304.85 410.95L308.42 410.9M64.55 349.85L306.46 388.4L309.91 388.33L314.13 389.62L303.01 388.47L306.46 388.4M72.15 350.89L303.32 389.2L306.79 389.14L310.73 390.43L299.85 389.27L303.32 389.2M81.14 357.16L279.88 377.36L283.08 377.25L291.02 378.49L276.69 377.46L279.88 377.36M59.89 352.4L311.48 407.47L315.03 407.41L317.22 408.72L307.93 407.52L311.48 407.47M61.18 358.4L283.85 365.5L285.64 365.32L303.67 366.13L282.07 365.68L283.85 365.5M62.78 349.77L307.07 422.77L310.67 422.73L311.34 424.05L303.47 422.81L307.07 422.77M72.92 356.64L277.59 361.04L278.88 360.84L298.82 361.5L276.3 361.24L277.59 361.04M79.47 354.11L312.51 425.11L316.12 425.08L316.7 426.39L308.91 425.15L312.51 425.11M70.77 355.74L305.43 395.33L308.9 395.26L312.72 396.56L301.95 395.4L305.43 395.33M64.38 355.99L279.31 357.86L279.86 357.66L301.73 358.06L278.76 358.07L279.31 357.86M72.15 350.89L301.13 380.35L304.48 380.26L310.35 381.53L297.78 380.43L301.13 380.35M61.84 350L304.75 383.82L308.14 383.74L313.38 385.02L301.36 383.9L304.75 383.82M61.84 350L297.7 380.8L301.06 380.71L306.81 381.98L294.34 380.88L297.7 380.8M75.95 356.21L289.54 371.91L292.44 371.78L303.48 372.94L286.65 372.04L289.54 371.91M74.14 355.14L313.82 437.45L317.44 437.41L317.55 438.73L310.2 437.48L313.82 437.45M67.98 353.81L303.46 385.52L306.83 385.44L312.33 386.71L300.08 385.6L303.46 385.52M80.13 352.25L307.46 394.9L310.97 394.84L314.08 396.14L303.95 394.96L307.46 394.9M81.65 350.28L290.25 366.61L293.21 366.48L303.64 367.65L287.29 366.73L290.25 366.61M69.45 348.42L289.2 368.13L292.29 368.01L301.41 369.22L286.11 368.24L289.2 368.13M61.85 352.75L299.53 381.02L302.84 380.93L309.37 382.19L296.23 381.11L299.53 381.02M76.93 351.64L312.06 432.38L315.68 432.35L315.8 433.66L308.45 432.41L312.06 432.38M75.95 356.21L277.95 361.79L279.55 361.6L298.38 362.35L276.36 361.97L277.95 361.79M82.05 356.27L309.16 410.02L312.72 409.97L314.49 411.29L305.59 410.07L309.16 410.02M66.91 356.71L304.88 393.28L308.32 393.2L312.8 394.49L301.45 393.35L304.88 393.28M81.65 350.28L282.08 370.62L285.27 370.51L293.22 371.75L278.88 370.72L282.08 370.62M79.71 353.99L308.31 395.16L311.81 395.1L315.19 396.4L304.82 395.23L308.31 395.16M63.57 347.28L305.96 384.69L309.4 384.62L313.85 385.91L302.52 384.76L305.96 384.69M81.5 357.89L288.36 367.37L290.66 367.21L306.07 368.19L286.07 367.54L288.36 367.37M72.11 358.23L286.91 369.78L289.42 369.63L303.44 370.67L284.4 369.93L286.91 369.78M68.61 351.19L278.19 362.52L280.7 362.37L294.68 363.42L275.67 362.68L278.19 362.52M79.43 351.28L297.73 371.18L300.84 371.07L309.8 372.28L294.63 371.29L297.73 371.18M68.27 355.88L289.16 373.74L292.16 373.62L302.27 374.8L286.17 373.86L289.16 373.74M65.7 350.35L296.61 370.52L299.68 370.41L309.05 371.61L293.55 370.64L296.61 370.52M79.71 353.46L313.95 438.84L317.57 438.81L317.47 440.12L310.32 438.87L313.95 438.84M65.12 351.51L303.45 391.74L306.92 391.67L310.73 392.97L299.97 391.81L303.45 391.74M62.64 352.37L279.43 359.69L281.3 359.51L298.96 360.36L277.57 359.88L279.43 359.69M76.93 351.64L314.61 437.06L318.23 437.03L318.18 438.34L310.98 437.09L314.61 437.06M81.92 350.15L293.21 375.88L296.53 375.79L302.86 377.06L289.89 375.97L293.21 375.88M69.49 353.63L293.17 392.08L296.65 392.01L300.34 393.31L289.69 392.14L293.17 392.08M62.19 354.9L291.98 373.64L294.99 373.52L305.02 374.7L288.98 373.76L291.98 373.64M72.92 356.64L283.32 371.28L286.15 371.14L297.73 372.28L280.48 371.41L283.32 371.28M67.18 354.82L288.38 371.27L291.29 371.15L302.22 372.3L285.48 371.4L288.38 371.27M61.94 351.54L307.4 402.43L310.93 402.38L313.44 403.69L303.86 402.49L307.4 402.43M81.79 356.42L297.21 377.89L300.39 377.79L308.51 379.02L294.03 378L297.21 377.89M58.69 348.82L299.49 387.19L302.94 387.12L307.16 388.41L296.04 387.26L299.49 387.19M67.18 354.82L312.22 429.73L315.83 429.69L316.4 431.01L308.62 429.77L312.22 429.73M62 350.78L295.38 371.5L298.46 371.38L307.67 372.59L292.29 371.61L295.38 371.5M79.84 356.85L310.65 400.05L314.16 399.99L317.28 401.29L307.14 400.11L310.65 400.05M68.61 351.19L280.68 357.85L282.45 357.66L300.57 358.47L278.92 358.03L280.68 357.85M79.29 352.21L282.91 358.11L284.57 357.93L303.14 358.7L281.25 358.3L282.91 358.11M62.5 352.15L280.17 369.78L283.17 369.66L293.27 370.84L277.18 369.9L280.17 369.78M81.92 350.15L313.55 401.11L317.1 401.05L319.26 402.36L310 401.16L313.55 401.11M64.55 349.85L296.67 376.99L299.96 376.89L306.64 378.15L293.37 377.08L296.67 376.99M64.38 355.99L300.57 376.4L303.63 376.29L313.1 377.48L297.52 376.52L300.57 376.4M67.18 354.82L312.11 421.61L315.7 421.56L316.77 422.88L308.52 421.65L312.11 421.61M79.7 355.68L312.87 418.54L316.46 418.5L317.59 419.81L309.29 418.58L312.87 418.54M61.84 350L291.6 369.51L294.65 369.39L304.28 370.59L288.56 369.63L291.6 369.51M71.93 353.8L293.89 372.86L296.94 372.74L306.47 373.94L290.84 372.98L293.89 372.86M61.85 352.75L306.69 395.63L310.18 395.56L313.74 396.86L303.2 395.69L306.69 395.63M59.89 352.4L297.15 376.43L300.35 376.33L308.31 377.56L293.96 376.53L297.15 376.43M68.82 352.79L300.18 385.49L303.58 385.41L308.7 386.69L296.78 385.57L300.18 385.49M79.71 353.99L294.22 382.18L297.58 382.09L303.28 383.37L290.86 382.26L294.22 382.18M67.98 353.81L314.45 414.68L318.03 414.63L319.58 415.94L310.88 414.73L314.45 414.68M61.85 352.75L309.35 409.93L312.91 409.88L314.81 411.19L305.79 409.98L309.35 409.93M67.98 353.81L280.21 360.7L282.02 360.52L299.94 361.35L278.4 360.89L280.21 360.7M80.67 350.78L298.4 383.53L301.82 383.46L306.46 384.75L294.97 383.61L298.4 383.53M65.12 351.51L280.75 374.85L284 374.75L291.36 376L277.51 374.95L280.75 374.85M70.33 356.03L294.18 390.66L297.62 390.59L302.05 391.88L290.74 390.73L294.18 390.66M66.11 355.09L300.83 387.52L304.22 387.44L309.52 388.72L297.44 387.6L300.83 387.52M60.97 352.39L304.64 388.92L308.07 388.84L312.73 390.13L301.21 388.99L304.64 388.92M66.72 355.69L294.16 375.46L297.23 375.34L306.64 376.54L291.1 375.58L294.16 375.46M81.5 357.89L299.07 387.69L302.46 387.61L307.82 388.89L295.69 387.78L299.07 387.69M61.16 358.23L278.53 376.57L281.57 376.45L291.27 377.65L275.5 376.69L278.53 376.57M62.64 352.37L300.77 386.45L304.18 386.37L309.2 387.66L297.37 386.53L300.77 386.45M69.45 348.42L304.5 271.76L300.89 271.72L308.43 270.48L308.12 271.79L304.5 271.76M73.26 346.98L303.17 273.33L299.55 273.29L307.16 272.05L306.78 273.37L303.17 273.33M80.22 351.91L302.7 275.58L299.09 275.54L306.44 274.3L306.32 275.61L302.7 275.58M67.28 349.61L302.58 278.21L298.98 278.17L306.79 276.93L306.19 278.25L302.58 278.21M79.08 352.63L303.07 280.59L299.46 280.56L307.04 279.32L306.68 280.63L303.07 280.59M69.49 353.63L302.32 284.73L298.72 284.69L306.63 283.46L305.92 284.77L302.32 284.73M80.35 348.84L299.63 285.49L296.03 285.45L304.04 284.21L303.23 285.53L299.63 285.49M73.3 352.84L299.04 288.36L295.44 288.32L303.5 287.09L302.64 288.4L299.04 288.36M77.14 351.12L300.38 290.45L296.79 290.4L305.05 289.18L303.97 290.49L300.38 290.45M70.84 349.6L302 293.15L298.43 293.1L307.18 291.88L305.57 293.2L302 293.15M99.33 346.92L283.76 346.92L283.76 346.71L306.43 346.92L283.76 347.13L283.76 346.92M62.65 357.62L315.71 453.36L319.34 453.33L319.11 454.64L312.09 453.39L315.71 453.36" stroke="#ff0000" stroke-opacity="0.55" stroke-width="0.62" fill="none" stroke-linejoin="miter"/>
<circle cx="83.2" cy="430.1" r="6.64" fill="none" stroke="#d9d9d9" stroke-width="0.6"/>
<circle cx="83.2" cy="430.1" r="13.28" fill="none" stroke="#d9d9d9" stroke-width="0.6"/>
<circle cx="83.2" cy="430.1" r="19.92" fill="none" stroke="#d9d9d9" stroke-width="0.6"/>
<circle cx="83.2" cy="430.1" r="26.56" fill="none" stroke="#d9d9d9" stroke-width="0.6"/>
<circle cx="83.2" cy="430.1" r="33.2" fill="none" stroke="#d9d9d9" stroke-width="0.6"/>
<line x1="83.2" y1="430.1" x2="117.5" y2="430.1" stroke="#d9d9d9" stroke-width="0.6"/>
<line x1="83.2" y1="430.1" x2="107.45" y2="405.85" stroke="#d9d9d9" stroke-width="0.6"/>
<line x1="83.2" y1="430.1" x2="83.2" y2="395.8" stroke="#d9d9d9" stroke-width="0.6"/>
<line x1="83.2" y1="430.1" x2="58.95" y2="405.85" stroke="#d9d9d9" stroke-width="0.6"/>
<line x1="83.2" y1="430.1" x2="48.9" y2="430.1" stroke="#d9d9d9" stroke-width="0.6"/>
<line x1="83.2" y1="430.1" x2="58.95" y2="454.35" stroke="#d9d9d9" stroke-width="0.6"/>
<line x1="83.2" y1="430.1" x2="83.2" y2="464.4" stroke="#d9d9d9" stroke-width="0.6"/>
<line x1="83.2" y1="430.1" x2="107.45" y2="454.35" stroke="#d9d9d9" stroke-width="0.6"/>
<circle cx="83.2" cy="430.1" r="34.3" fill="none" stroke="#a8a8a8" stroke-width="0.8"/>
<text x="116.41" y="432.6" font-size="8.8" textLength="9.39" lengthAdjust="spacingAndGlyphs" fill="#1a1a1a">0&#176;</text>
<text x="102.71" y="406.3" font-size="8.8" textLength="14.81" lengthAdjust="spacingAndGlyphs" fill="#1a1a1a">45&#176;</text>
<text x="75.73" y="395.42" font-size="8.8" textLength="15.07" lengthAdjust="spacingAndGlyphs" fill="#1a1a1a">90&#176;</text>
<text x="46.34" y="406.3" font-size="8.8" textLength="20.12" lengthAdjust="spacingAndGlyphs" fill="#1a1a1a">135&#176;</text>
<text x="35.27" y="432.6" font-size="8.8" textLength="20.12" lengthAdjust="spacingAndGlyphs" fill="#1a1a1a">180&#176;</text>
<text x="46.59" y="458.89" font-size="8.8" textLength="19.87" lengthAdjust="spacingAndGlyphs" fill="#1a1a1a">225&#176;</text>
<text x="73.32" y="469.78" font-size="8.8" textLength="19.87" lengthAdjust="spacingAndGlyphs" fill="#1a1a1a">270&#176;</text>
<text x="100.17" y="458.89" font-size="8.8" textLength="19.74" lengthAdjust="spacingAndGlyphs" fill="#1a1a1a">315&#176;</text>
<text x="92.48" y="427.56" font-size="3.7" text-anchor="middle" fill="#444" style="stroke:none">20%</text>
<text x="98.61" y="425.02" font-size="3.7" text-anchor="middle" fill="#444" style="stroke:none">40%</text>
<text x="104.74" y="422.48" font-size="3.7" text-anchor="middle" fill="#444" style="stroke:none">60%</text>
<text x="110.88" y="419.93" font-size="3.7" text-anchor="middle" fill="#444" style="stroke:none">80%</text>
<text x="117.01" y="417.39" font-size="3.7" text-anchor="middle" fill="#444" style="stroke:none">100%</text>
<path d="M83.51 429.97L83.84 428.57L83.07 429.79L82.89 429.97L82.89 430.23L83.07 430.41L96.16 461.39L83.51 430.23Z" fill="none" stroke="#2a2aff" stroke-opacity="0.85" stroke-width="1.3" stroke-linejoin="round"/>
<circle cx="524.6" cy="380.2" r="17.3" fill="none" stroke="#cfcfcf" stroke-width="0.7"/>
<circle cx="524.6" cy="380.2" r="34.6" fill="none" stroke="#cfcfcf" stroke-width="0.7"/>
<circle cx="524.6" cy="380.2" r="51.9" fill="none" stroke="#cfcfcf" stroke-width="0.7"/>
<circle cx="524.6" cy="380.2" r="69.2" fill="none" stroke="#cfcfcf" stroke-width="0.7"/>
<circle cx="524.6" cy="380.2" r="86.5" fill="none" stroke="#cfcfcf" stroke-width="0.7"/>
<line x1="524.6" y1="380.2" x2="615.6" y2="380.2" stroke="#cfcfcf" stroke-width="0.7"/>
<line x1="524.6" y1="380.2" x2="588.95" y2="315.85" stroke="#cfcfcf" stroke-width="0.7"/>
<line x1="524.6" y1="380.2" x2="524.6" y2="289.2" stroke="#cfcfcf" stroke-width="0.7"/>
<line x1="524.6" y1="380.2" x2="460.25" y2="315.85" stroke="#cfcfcf" stroke-width="0.7"/>
<line x1="524.6" y1="380.2" x2="433.6" y2="380.2" stroke="#cfcfcf" stroke-width="0.7"/>
<line x1="524.6" y1="380.2" x2="460.25" y2="444.55" stroke="#cfcfcf" stroke-width="0.7"/>
<line x1="524.6" y1="380.2" x2="524.6" y2="471.2" stroke="#cfcfcf" stroke-width="0.7"/>
<line x1="524.6" y1="380.2" x2="588.95" y2="444.55" stroke="#cfcfcf" stroke-width="0.7"/>
<circle cx="524.6" cy="380.2" r="91" fill="none" stroke="#555555" stroke-width="1"/>
<text x="618.99" y="382.5" font-size="9.6" textLength="9.84" lengthAdjust="spacingAndGlyphs" fill="#1a1a1a">0&#176;</text>
<text x="587.83" y="313.13" font-size="9.6" textLength="14.17" lengthAdjust="spacingAndGlyphs" fill="#1a1a1a">45&#176;</text>
<text x="517.45" y="284.4" font-size="9.6" textLength="14.42" lengthAdjust="spacingAndGlyphs" fill="#1a1a1a">90&#176;</text>
<text x="444.59" y="313.13" font-size="9.6" textLength="19.59" lengthAdjust="spacingAndGlyphs" fill="#1a1a1a">135&#176;</text>
<text x="415.54" y="382.5" font-size="9.6" textLength="19.59" lengthAdjust="spacingAndGlyphs" fill="#1a1a1a">180&#176;</text>
<text x="444.84" y="451.87" font-size="9.6" textLength="19.34" lengthAdjust="spacingAndGlyphs" fill="#1a1a1a">225&#176;</text>
<text x="514.98" y="480.6" font-size="9.6" textLength="19.34" lengthAdjust="spacingAndGlyphs" fill="#1a1a1a">270&#176;</text>
<text x="585.25" y="451.87" font-size="9.6" textLength="19.21" lengthAdjust="spacingAndGlyphs" fill="#1a1a1a">315&#176;</text>
<text x="540.74" y="372.2" font-size="9" textLength="18.37" lengthAdjust="spacingAndGlyphs" fill="#1a1a1a">20%</text>
<text x="556.08" y="365.7" font-size="9" textLength="19.14" lengthAdjust="spacingAndGlyphs" fill="#1a1a1a">40%</text>
<text x="571.95" y="359.5" font-size="9" textLength="18.16" lengthAdjust="spacingAndGlyphs" fill="#1a1a1a">60%</text>
<text x="588.73" y="351.9" font-size="9" textLength="17.47" lengthAdjust="spacingAndGlyphs" fill="#1a1a1a">80%</text>
<text x="605.67" y="345.6" font-size="9" textLength="21.32" lengthAdjust="spacingAndGlyphs" fill="#1a1a1a">100%</text>
<path d="M528.84 378.45L534 357.5L512.05 349.91L523.32 379.67L521.4 381.52L515.99 400.98L557.17 458.84L532.83 383.61Z" fill="none" stroke="#0000ff" stroke-opacity="1" stroke-width="1.3" stroke-linejoin="round"/>
<circle cx="528.84" cy="378.45" r="2.5" fill="#0000ff"/>
<circle cx="534" cy="357.5" r="2.5" fill="#0000ff"/>
<circle cx="512.05" cy="349.91" r="2.5" fill="#0000ff"/>
<circle cx="523.32" cy="379.67" r="2.5" fill="#0000ff"/>
<circle cx="521.4" cy="381.52" r="2.5" fill="#0000ff"/>
<circle cx="515.99" cy="400.98" r="2.5" fill="#0000ff"/>
<circle cx="557.17" cy="458.84" r="2.5" fill="#0000ff"/>
<circle cx="532.83" cy="383.61" r="2.5" fill="#0000ff"/>
</svg></body></html>
